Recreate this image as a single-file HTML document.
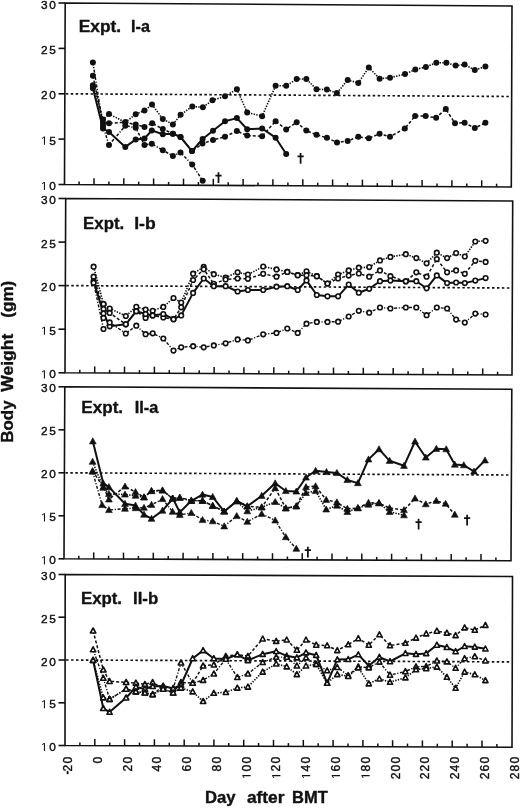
<!DOCTYPE html>
<html><head><meta charset="utf-8"><title>Body Weight after BMT</title>
<style>html,body{margin:0;padding:0;background:#fff;width:520px;height:808px;overflow:hidden;font-family:"Liberation Sans",sans-serif}svg{display:block;filter:blur(0.3px)}</style>
</head><body>
<svg width="520" height="808" viewBox="0 0 520 808">
<rect width="520" height="808" fill="#fff"/>
<path d="M65.2 3L512 6L511.3 187L64.5 184.5Z" fill="none" stroke="#111" stroke-width="1.6" stroke-linejoin="miter"/>
<path d="M58.5 3H65.2" stroke="#111" stroke-width="1.6"/>
<path d="M58.5 48.4H65" stroke="#111" stroke-width="1.6"/>
<path d="M58.5 93.8H64.8" stroke="#111" stroke-width="1.6"/>
<path d="M58.5 139.1H64.7" stroke="#111" stroke-width="1.6"/>
<path d="M58.5 184.5H64.5" stroke="#111" stroke-width="1.6"/>
<path d="M79.1 184.6V181.4" stroke="#111" stroke-width="1.5"/>
<path d="M94 184.7V178.2" stroke="#111" stroke-width="1.5"/>
<path d="M108.9 184.7V181.5" stroke="#111" stroke-width="1.5"/>
<path d="M123.8 184.8V178.3" stroke="#111" stroke-width="1.5"/>
<path d="M138.7 184.9V181.7" stroke="#111" stroke-width="1.5"/>
<path d="M153.6 185V178.5" stroke="#111" stroke-width="1.5"/>
<path d="M168.6 185.1V181.9" stroke="#111" stroke-width="1.5"/>
<path d="M183.5 185.2V178.7" stroke="#111" stroke-width="1.5"/>
<path d="M198.4 185.2V182" stroke="#111" stroke-width="1.5"/>
<path d="M213.3 185.3V178.8" stroke="#111" stroke-width="1.5"/>
<path d="M228.2 185.4V182.2" stroke="#111" stroke-width="1.5"/>
<path d="M243.1 185.5V179" stroke="#111" stroke-width="1.5"/>
<path d="M258 185.6V182.4" stroke="#111" stroke-width="1.5"/>
<path d="M272.9 185.7V179.2" stroke="#111" stroke-width="1.5"/>
<path d="M287.9 185.7V182.5" stroke="#111" stroke-width="1.5"/>
<path d="M302.8 185.8V179.3" stroke="#111" stroke-width="1.5"/>
<path d="M317.7 185.9V182.7" stroke="#111" stroke-width="1.5"/>
<path d="M332.6 186V179.5" stroke="#111" stroke-width="1.5"/>
<path d="M347.5 186.1V182.9" stroke="#111" stroke-width="1.5"/>
<path d="M362.4 186.2V179.7" stroke="#111" stroke-width="1.5"/>
<path d="M377.3 186.3V183.1" stroke="#111" stroke-width="1.5"/>
<path d="M392.2 186.3V179.8" stroke="#111" stroke-width="1.5"/>
<path d="M407.1 186.4V183.2" stroke="#111" stroke-width="1.5"/>
<path d="M422.1 186.5V180" stroke="#111" stroke-width="1.5"/>
<path d="M437 186.6V183.4" stroke="#111" stroke-width="1.5"/>
<path d="M451.9 186.7V180.2" stroke="#111" stroke-width="1.5"/>
<path d="M466.8 186.8V183.6" stroke="#111" stroke-width="1.5"/>
<path d="M481.7 186.8V180.3" stroke="#111" stroke-width="1.5"/>
<path d="M496.6 186.9V183.7" stroke="#111" stroke-width="1.5"/>
<path d="M65.8 93.8L510.6 96.5" stroke="#111" stroke-width="1.65" stroke-dasharray="2.5 2.45"/>
<path d="M65.7 198.5L512.7 201L512 375L65 372.8Z" fill="none" stroke="#111" stroke-width="1.6" stroke-linejoin="miter"/>
<path d="M58.5 198.5H65.7" stroke="#111" stroke-width="1.6"/>
<path d="M58.5 242.1H65.5" stroke="#111" stroke-width="1.6"/>
<path d="M58.5 285.6H65.3" stroke="#111" stroke-width="1.6"/>
<path d="M58.5 329.2H65.2" stroke="#111" stroke-width="1.6"/>
<path d="M58.5 372.8H65" stroke="#111" stroke-width="1.6"/>
<path d="M79.8 372.9V369.7" stroke="#111" stroke-width="1.5"/>
<path d="M94.7 372.9V366.4" stroke="#111" stroke-width="1.5"/>
<path d="M109.6 373V369.8" stroke="#111" stroke-width="1.5"/>
<path d="M124.5 373.1V366.6" stroke="#111" stroke-width="1.5"/>
<path d="M139.5 373.2V370" stroke="#111" stroke-width="1.5"/>
<path d="M154.4 373.2V366.7" stroke="#111" stroke-width="1.5"/>
<path d="M169.3 373.3V370.1" stroke="#111" stroke-width="1.5"/>
<path d="M184.2 373.4V366.9" stroke="#111" stroke-width="1.5"/>
<path d="M199.2 373.5V370.3" stroke="#111" stroke-width="1.5"/>
<path d="M214.1 373.5V367" stroke="#111" stroke-width="1.5"/>
<path d="M229 373.6V370.4" stroke="#111" stroke-width="1.5"/>
<path d="M243.9 373.7V367.2" stroke="#111" stroke-width="1.5"/>
<path d="M258.9 373.8V370.6" stroke="#111" stroke-width="1.5"/>
<path d="M273.8 373.8V367.3" stroke="#111" stroke-width="1.5"/>
<path d="M288.7 373.9V370.7" stroke="#111" stroke-width="1.5"/>
<path d="M303.6 374V367.5" stroke="#111" stroke-width="1.5"/>
<path d="M318.5 374V370.8" stroke="#111" stroke-width="1.5"/>
<path d="M333.5 374.1V367.6" stroke="#111" stroke-width="1.5"/>
<path d="M348.4 374.2V371" stroke="#111" stroke-width="1.5"/>
<path d="M363.3 374.3V367.8" stroke="#111" stroke-width="1.5"/>
<path d="M378.2 374.3V371.1" stroke="#111" stroke-width="1.5"/>
<path d="M393.2 374.4V367.9" stroke="#111" stroke-width="1.5"/>
<path d="M408.1 374.5V371.3" stroke="#111" stroke-width="1.5"/>
<path d="M423 374.6V368.1" stroke="#111" stroke-width="1.5"/>
<path d="M437.9 374.6V371.4" stroke="#111" stroke-width="1.5"/>
<path d="M452.9 374.7V368.2" stroke="#111" stroke-width="1.5"/>
<path d="M467.8 374.8V371.6" stroke="#111" stroke-width="1.5"/>
<path d="M482.7 374.9V368.4" stroke="#111" stroke-width="1.5"/>
<path d="M497.6 374.9V371.7" stroke="#111" stroke-width="1.5"/>
<path d="M66.3 285.6L511.4 288" stroke="#111" stroke-width="1.65" stroke-dasharray="2.5 2.45"/>
<path d="M64.8 386.8L511.8 389.3L511 560.7L64 558.8Z" fill="none" stroke="#111" stroke-width="1.6" stroke-linejoin="miter"/>
<path d="M58.5 386.8H64.8" stroke="#111" stroke-width="1.6"/>
<path d="M58.5 429.8H64.6" stroke="#111" stroke-width="1.6"/>
<path d="M58.5 472.8H64.4" stroke="#111" stroke-width="1.6"/>
<path d="M58.5 515.8H64.2" stroke="#111" stroke-width="1.6"/>
<path d="M58.5 558.8H64" stroke="#111" stroke-width="1.6"/>
<path d="M78.8 558.9V555.7" stroke="#111" stroke-width="1.5"/>
<path d="M93.7 558.9V552.4" stroke="#111" stroke-width="1.5"/>
<path d="M108.6 559V555.8" stroke="#111" stroke-width="1.5"/>
<path d="M123.5 559.1V552.6" stroke="#111" stroke-width="1.5"/>
<path d="M138.4 559.1V555.9" stroke="#111" stroke-width="1.5"/>
<path d="M153.3 559.2V552.7" stroke="#111" stroke-width="1.5"/>
<path d="M168.2 559.2V556" stroke="#111" stroke-width="1.5"/>
<path d="M183.1 559.3V552.8" stroke="#111" stroke-width="1.5"/>
<path d="M198 559.4V556.2" stroke="#111" stroke-width="1.5"/>
<path d="M212.9 559.4V552.9" stroke="#111" stroke-width="1.5"/>
<path d="M227.8 559.5V556.3" stroke="#111" stroke-width="1.5"/>
<path d="M242.7 559.6V553.1" stroke="#111" stroke-width="1.5"/>
<path d="M257.6 559.6V556.4" stroke="#111" stroke-width="1.5"/>
<path d="M272.5 559.7V553.2" stroke="#111" stroke-width="1.5"/>
<path d="M287.4 559.7V556.5" stroke="#111" stroke-width="1.5"/>
<path d="M302.2 559.8V553.3" stroke="#111" stroke-width="1.5"/>
<path d="M317.1 559.9V556.7" stroke="#111" stroke-width="1.5"/>
<path d="M332 559.9V553.4" stroke="#111" stroke-width="1.5"/>
<path d="M346.9 560V556.8" stroke="#111" stroke-width="1.5"/>
<path d="M361.8 560.1V553.6" stroke="#111" stroke-width="1.5"/>
<path d="M376.7 560.1V556.9" stroke="#111" stroke-width="1.5"/>
<path d="M391.6 560.2V553.7" stroke="#111" stroke-width="1.5"/>
<path d="M406.5 560.3V557.1" stroke="#111" stroke-width="1.5"/>
<path d="M421.4 560.3V553.8" stroke="#111" stroke-width="1.5"/>
<path d="M436.3 560.4V557.2" stroke="#111" stroke-width="1.5"/>
<path d="M451.2 560.4V553.9" stroke="#111" stroke-width="1.5"/>
<path d="M466.1 560.5V557.3" stroke="#111" stroke-width="1.5"/>
<path d="M481 560.6V554.1" stroke="#111" stroke-width="1.5"/>
<path d="M495.9 560.6V557.4" stroke="#111" stroke-width="1.5"/>
<path d="M65.4 472.8L510.4 475" stroke="#111" stroke-width="1.65" stroke-dasharray="2.5 2.45"/>
<path d="M65.2 574.5L512.5 576.5L512 747.2L65 745.5Z" fill="none" stroke="#111" stroke-width="1.6" stroke-linejoin="miter"/>
<path d="M58.5 574.5H65.2" stroke="#111" stroke-width="1.6"/>
<path d="M58.5 617.2H65.2" stroke="#111" stroke-width="1.6"/>
<path d="M58.5 660H65.1" stroke="#111" stroke-width="1.6"/>
<path d="M58.5 702.8H65" stroke="#111" stroke-width="1.6"/>
<path d="M58.5 745.5H65" stroke="#111" stroke-width="1.6"/>
<path d="M79.9 745.6V742.4" stroke="#111" stroke-width="1.5"/>
<path d="M94.8 745.6V739.1" stroke="#111" stroke-width="1.5"/>
<path d="M109.7 745.7V742.5" stroke="#111" stroke-width="1.5"/>
<path d="M124.6 745.7V739.2" stroke="#111" stroke-width="1.5"/>
<path d="M139.5 745.8V742.6" stroke="#111" stroke-width="1.5"/>
<path d="M154.4 745.8V739.3" stroke="#111" stroke-width="1.5"/>
<path d="M169.3 745.9V742.7" stroke="#111" stroke-width="1.5"/>
<path d="M184.2 746V739.5" stroke="#111" stroke-width="1.5"/>
<path d="M199 746V742.8" stroke="#111" stroke-width="1.5"/>
<path d="M213.9 746.1V739.6" stroke="#111" stroke-width="1.5"/>
<path d="M228.8 746.1V742.9" stroke="#111" stroke-width="1.5"/>
<path d="M243.7 746.2V739.7" stroke="#111" stroke-width="1.5"/>
<path d="M258.6 746.2V743" stroke="#111" stroke-width="1.5"/>
<path d="M273.5 746.3V739.8" stroke="#111" stroke-width="1.5"/>
<path d="M288.4 746.3V743.1" stroke="#111" stroke-width="1.5"/>
<path d="M303.3 746.4V739.9" stroke="#111" stroke-width="1.5"/>
<path d="M318.2 746.5V743.3" stroke="#111" stroke-width="1.5"/>
<path d="M333.1 746.5V740" stroke="#111" stroke-width="1.5"/>
<path d="M348 746.6V743.4" stroke="#111" stroke-width="1.5"/>
<path d="M362.9 746.6V740.1" stroke="#111" stroke-width="1.5"/>
<path d="M377.8 746.7V743.5" stroke="#111" stroke-width="1.5"/>
<path d="M392.6 746.7V740.2" stroke="#111" stroke-width="1.5"/>
<path d="M407.5 746.8V743.6" stroke="#111" stroke-width="1.5"/>
<path d="M422.4 746.9V740.4" stroke="#111" stroke-width="1.5"/>
<path d="M437.3 746.9V743.7" stroke="#111" stroke-width="1.5"/>
<path d="M452.2 747V740.5" stroke="#111" stroke-width="1.5"/>
<path d="M467.1 747V743.8" stroke="#111" stroke-width="1.5"/>
<path d="M482 747.1V740.6" stroke="#111" stroke-width="1.5"/>
<path d="M496.9 747.1V743.9" stroke="#111" stroke-width="1.5"/>
<path d="M66.1 660L511.2 661.9" stroke="#111" stroke-width="1.65" stroke-dasharray="2.5 2.45"/>
<path d="M92.9 85.2 L103 119.5 L109 114 L125.3 122.3 L135.7 114.2 L144.5 110.6 L152 104.6 L162.8 119 L172.9 124.4 L180.6 114.8 L192.3 106.5 L202.9 107.3 L212.5 100.2 L225 96.3 L236.9 89.2 L247.2 112.5 L262.1 116.2 L275.6 85.8 L286.2 85.8 L296.7 79 L306.3 79 L316.5 89.2 L326.9 89.6 L336.9 93.1 L347.7 80 L358.3 82.9 L368.8 67.5 L379.6 78.7 L390 77.7 L405 74.1 L415.3 69.6 L425.9 66.9 L436.3 62.7 L446.4 62.7 L455.6 65.6 L464.6 64.6 L474.8 70 L485.4 66.5" fill="none" stroke="#111" stroke-width="1.6" stroke-dasharray="1.4 1.3" stroke-linejoin="round"/>
<path d="M92.9 88.2 L103 128.5 L109 132 L125.3 146.9 L135.7 139.6 L144.5 138.5 L151.8 130.4 L162.8 134.2 L172.9 133.7 L180.5 137 L192 151.1 L202.6 139 L213 130.7 L225 121.3 L236.9 118.1 L247.2 129.3 L262.1 128.5 L275.6 137.7 L286.2 154" fill="none" stroke="#111" stroke-width="2.0" stroke-linejoin="round"/>
<path d="M92.9 75.8 L103 123 L109 123.2 L125.3 122.3 L135.7 124.6 L144.5 126.9 L152.2 123.3 L162.8 129 L172.9 133.7 L180.5 137 L192 151.1 L202.5 143.5 L213 140 L225 136.7 L236.9 131 L247.2 135.6 L262.1 136.2 L275.6 121.3 L286.2 129.4 L296.7 122.3 L306.3 130.6 L316.5 134.8 L326.9 137.7 L337 142.5 L347.7 141 L358.3 136.7 L368.8 138.3 L379.6 133.8 L390 136.7 L404.8 128.5 L415.1 116.1 L425.6 116.1 L436.1 117.8 L445.8 109 L455 123.3 L464.6 122.7 L474.8 128.1 L485.4 122.7" fill="none" stroke="#111" stroke-width="1.5" stroke-dasharray="3 2" stroke-linejoin="round"/>
<path d="M92.9 62.4 L103 126 L109 145 L125.3 125.8 L135.7 127.7 L144.5 145 L151.8 143.8 L162.8 150.2 L172.9 155.9 L180.5 152.5 L192.2 164.5 L202.7 180.8" fill="none" stroke="#111" stroke-width="1.5" stroke-dasharray="3 1.6 1.2 1.6" stroke-linejoin="round"/>
<circle cx="92.9" cy="85.2" r="3.0" fill="#111"/>
<circle cx="103" cy="119.5" r="3.0" fill="#111"/>
<circle cx="109" cy="114" r="3.0" fill="#111"/>
<circle cx="125.3" cy="122.3" r="3.0" fill="#111"/>
<circle cx="135.7" cy="114.2" r="3.0" fill="#111"/>
<circle cx="144.5" cy="110.6" r="3.0" fill="#111"/>
<circle cx="152" cy="104.6" r="3.0" fill="#111"/>
<circle cx="162.8" cy="119" r="3.0" fill="#111"/>
<circle cx="172.9" cy="124.4" r="3.0" fill="#111"/>
<circle cx="180.6" cy="114.8" r="3.0" fill="#111"/>
<circle cx="192.3" cy="106.5" r="3.0" fill="#111"/>
<circle cx="202.9" cy="107.3" r="3.0" fill="#111"/>
<circle cx="212.5" cy="100.2" r="3.0" fill="#111"/>
<circle cx="225" cy="96.3" r="3.0" fill="#111"/>
<circle cx="236.9" cy="89.2" r="3.0" fill="#111"/>
<circle cx="247.2" cy="112.5" r="3.0" fill="#111"/>
<circle cx="262.1" cy="116.2" r="3.0" fill="#111"/>
<circle cx="275.6" cy="85.8" r="3.0" fill="#111"/>
<circle cx="286.2" cy="85.8" r="3.0" fill="#111"/>
<circle cx="296.7" cy="79" r="3.0" fill="#111"/>
<circle cx="306.3" cy="79" r="3.0" fill="#111"/>
<circle cx="316.5" cy="89.2" r="3.0" fill="#111"/>
<circle cx="326.9" cy="89.6" r="3.0" fill="#111"/>
<circle cx="336.9" cy="93.1" r="3.0" fill="#111"/>
<circle cx="347.7" cy="80" r="3.0" fill="#111"/>
<circle cx="358.3" cy="82.9" r="3.0" fill="#111"/>
<circle cx="368.8" cy="67.5" r="3.0" fill="#111"/>
<circle cx="379.6" cy="78.7" r="3.0" fill="#111"/>
<circle cx="390" cy="77.7" r="3.0" fill="#111"/>
<circle cx="405" cy="74.1" r="3.0" fill="#111"/>
<circle cx="415.3" cy="69.6" r="3.0" fill="#111"/>
<circle cx="425.9" cy="66.9" r="3.0" fill="#111"/>
<circle cx="436.3" cy="62.7" r="3.0" fill="#111"/>
<circle cx="446.4" cy="62.7" r="3.0" fill="#111"/>
<circle cx="455.6" cy="65.6" r="3.0" fill="#111"/>
<circle cx="464.6" cy="64.6" r="3.0" fill="#111"/>
<circle cx="474.8" cy="70" r="3.0" fill="#111"/>
<circle cx="485.4" cy="66.5" r="3.0" fill="#111"/>
<circle cx="92.9" cy="88.2" r="3.0" fill="#111"/>
<circle cx="103" cy="128.5" r="3.0" fill="#111"/>
<circle cx="109" cy="132" r="3.0" fill="#111"/>
<circle cx="125.3" cy="146.9" r="3.0" fill="#111"/>
<circle cx="135.7" cy="139.6" r="3.0" fill="#111"/>
<circle cx="144.5" cy="138.5" r="3.0" fill="#111"/>
<circle cx="151.8" cy="130.4" r="3.0" fill="#111"/>
<circle cx="162.8" cy="134.2" r="3.0" fill="#111"/>
<circle cx="172.9" cy="133.7" r="3.0" fill="#111"/>
<circle cx="180.5" cy="137" r="3.0" fill="#111"/>
<circle cx="192" cy="151.1" r="3.0" fill="#111"/>
<circle cx="202.6" cy="139" r="3.0" fill="#111"/>
<circle cx="213" cy="130.7" r="3.0" fill="#111"/>
<circle cx="225" cy="121.3" r="3.0" fill="#111"/>
<circle cx="236.9" cy="118.1" r="3.0" fill="#111"/>
<circle cx="247.2" cy="129.3" r="3.0" fill="#111"/>
<circle cx="262.1" cy="128.5" r="3.0" fill="#111"/>
<circle cx="275.6" cy="137.7" r="3.0" fill="#111"/>
<circle cx="286.2" cy="154" r="3.0" fill="#111"/>
<circle cx="92.9" cy="75.8" r="3.0" fill="#111"/>
<circle cx="103" cy="123" r="3.0" fill="#111"/>
<circle cx="109" cy="123.2" r="3.0" fill="#111"/>
<circle cx="125.3" cy="122.3" r="3.0" fill="#111"/>
<circle cx="135.7" cy="124.6" r="3.0" fill="#111"/>
<circle cx="144.5" cy="126.9" r="3.0" fill="#111"/>
<circle cx="152.2" cy="123.3" r="3.0" fill="#111"/>
<circle cx="162.8" cy="129" r="3.0" fill="#111"/>
<circle cx="172.9" cy="133.7" r="3.0" fill="#111"/>
<circle cx="180.5" cy="137" r="3.0" fill="#111"/>
<circle cx="192" cy="151.1" r="3.0" fill="#111"/>
<circle cx="202.5" cy="143.5" r="3.0" fill="#111"/>
<circle cx="213" cy="140" r="3.0" fill="#111"/>
<circle cx="225" cy="136.7" r="3.0" fill="#111"/>
<circle cx="236.9" cy="131" r="3.0" fill="#111"/>
<circle cx="247.2" cy="135.6" r="3.0" fill="#111"/>
<circle cx="262.1" cy="136.2" r="3.0" fill="#111"/>
<circle cx="275.6" cy="121.3" r="3.0" fill="#111"/>
<circle cx="286.2" cy="129.4" r="3.0" fill="#111"/>
<circle cx="296.7" cy="122.3" r="3.0" fill="#111"/>
<circle cx="306.3" cy="130.6" r="3.0" fill="#111"/>
<circle cx="316.5" cy="134.8" r="3.0" fill="#111"/>
<circle cx="326.9" cy="137.7" r="3.0" fill="#111"/>
<circle cx="337" cy="142.5" r="3.0" fill="#111"/>
<circle cx="347.7" cy="141" r="3.0" fill="#111"/>
<circle cx="358.3" cy="136.7" r="3.0" fill="#111"/>
<circle cx="368.8" cy="138.3" r="3.0" fill="#111"/>
<circle cx="379.6" cy="133.8" r="3.0" fill="#111"/>
<circle cx="390" cy="136.7" r="3.0" fill="#111"/>
<circle cx="404.8" cy="128.5" r="3.0" fill="#111"/>
<circle cx="415.1" cy="116.1" r="3.0" fill="#111"/>
<circle cx="425.6" cy="116.1" r="3.0" fill="#111"/>
<circle cx="436.1" cy="117.8" r="3.0" fill="#111"/>
<circle cx="445.8" cy="109" r="3.0" fill="#111"/>
<circle cx="455" cy="123.3" r="3.0" fill="#111"/>
<circle cx="464.6" cy="122.7" r="3.0" fill="#111"/>
<circle cx="474.8" cy="128.1" r="3.0" fill="#111"/>
<circle cx="485.4" cy="122.7" r="3.0" fill="#111"/>
<circle cx="92.9" cy="62.4" r="3.0" fill="#111"/>
<circle cx="103" cy="126" r="3.0" fill="#111"/>
<circle cx="109" cy="145" r="3.0" fill="#111"/>
<circle cx="125.3" cy="125.8" r="3.0" fill="#111"/>
<circle cx="135.7" cy="127.7" r="3.0" fill="#111"/>
<circle cx="144.5" cy="145" r="3.0" fill="#111"/>
<circle cx="151.8" cy="143.8" r="3.0" fill="#111"/>
<circle cx="162.8" cy="150.2" r="3.0" fill="#111"/>
<circle cx="172.9" cy="155.9" r="3.0" fill="#111"/>
<circle cx="180.5" cy="152.5" r="3.0" fill="#111"/>
<circle cx="192.2" cy="164.5" r="3.0" fill="#111"/>
<circle cx="202.7" cy="180.8" r="3.0" fill="#111"/>
<path d="M218.5 172.3V182.9 M215.4 175.6H221.6" stroke="#111" stroke-width="1.75"/>
<path d="M300.6 153.1V163.7 M297.5 156.4H303.7" stroke="#111" stroke-width="1.75"/>
<path d="M93.6 266.7 L103.5 304 L109.7 308.5 L125.8 316 L136.3 306.8 L145.6 309.6 L152.7 310.8 L163.3 306.9 L173.5 298 L181.2 302.5 L193.1 273.7 L203.7 266.9 L213.8 274.2 L225.6 277.5 L237.6 272.3 L247.9 274.6 L263.2 266.5 L276.5 269.4 L287.3 271.9 L297.7 275.2 L306.5 271.3 L316.8 276.2 L327.5 283.5 L338.1 274.6 L348.7 270.4 L358.8 267.7 L369.2 267.1 L380 260.4 L390.4 256.9 L405.8 254.2 L416.3 258.1 L426.6 263.3 L436.8 252.7 L447.1 258.1 L456.1 253.1 L464.8 256.5 L475.3 241.5 L485.6 240.8" fill="none" stroke="#111" stroke-width="1.6" stroke-dasharray="1.4 1.3" stroke-linejoin="round"/>
<path d="M93.6 276.7 L103.5 309 L109.7 312.9 L125.8 324.3 L136.3 311.2 L145.6 317.9 L152.7 315.4 L163.3 317.5 L173.5 319.2 L181.2 307.3 L193.1 280 L203.7 269.2 L213.8 283.8 L225.6 279.4 L237.6 278.5 L247.9 278.8 L263.2 273.8 L276.5 276.7 L287.3 271.9 L297.7 275.2 L306.5 275.2 L316.8 276.2 L327.5 283.5 L338.1 278.5 L348.7 275.6 L358.8 273.5 L369.2 276.7 L380 270.4 L390.4 276.2 L405.8 281.5 L416.3 272.3 L426.6 276.7 L436.8 259.1 L447.1 272.3 L456.1 270.4 L464.8 273.8 L475.3 260.8 L485.6 261.9" fill="none" stroke="#111" stroke-width="1.5" stroke-dasharray="3 2" stroke-linejoin="round"/>
<path d="M93.6 281.2 L103.5 313.5 L109.7 326.3 L125.8 324.3 L136.3 311.2 L145.6 314 L152.7 315.4 L163.3 314 L173.5 319.2 L181.2 315.4 L193.1 292.9 L203.7 278.5 L213.8 286.2 L225.6 286.2 L237.6 291.5 L247.9 290 L263.2 290 L276.5 286.7 L287.3 286.2 L297.7 290 L306.5 280.4 L316.8 295 L327.5 296.3 L338.1 296.3 L348.7 284.6 L358.8 292.7 L369.2 288.8 L380 281.2 L390.4 280.6 L405.8 281.2 L416.3 281.2 L426.6 288.3 L436.8 275.4 L447.1 283.1 L456.1 282.5 L464.8 283.1 L475.3 280.6 L485.6 278.1" fill="none" stroke="#111" stroke-width="2.0" stroke-linejoin="round"/>
<path d="M93.6 282.8 L103.5 329 L109.7 322.4 L125.8 333.5 L136.3 325.7 L145.6 334.2 L152.7 333.3 L163.3 338.5 L173.5 350.6 L181.2 347.3 L193.1 346.2 L203.7 347.3 L213.8 345.4 L225.6 343.3 L237.6 339.4 L247.9 340.4 L263.2 334.3 L276.5 332.9 L287.3 328.5 L297.7 332.9 L306.5 323.7 L316.8 321.9 L327.5 321.9 L338.1 321.7 L348.7 316.5 L358.8 310.8 L369.2 312.7 L380 307.5 L390.4 308.5 L405.8 307.5 L416.3 307.5 L426.6 315.2 L436.8 307.5 L447.1 308.5 L456.1 319.6 L464.8 322.6 L475.3 313.6 L485.6 314.5" fill="none" stroke="#111" stroke-width="1.4" stroke-dasharray="3 1.6 1.2 1.6" stroke-linejoin="round"/>
<circle cx="93.6" cy="266.7" r="2.3" fill="#fff" stroke="#111" stroke-width="1.6"/>
<circle cx="103.5" cy="304" r="2.3" fill="#fff" stroke="#111" stroke-width="1.6"/>
<circle cx="109.7" cy="308.5" r="2.3" fill="#fff" stroke="#111" stroke-width="1.6"/>
<circle cx="125.8" cy="316" r="2.3" fill="#fff" stroke="#111" stroke-width="1.6"/>
<circle cx="136.3" cy="306.8" r="2.3" fill="#fff" stroke="#111" stroke-width="1.6"/>
<circle cx="145.6" cy="309.6" r="2.3" fill="#fff" stroke="#111" stroke-width="1.6"/>
<circle cx="152.7" cy="310.8" r="2.3" fill="#fff" stroke="#111" stroke-width="1.6"/>
<circle cx="163.3" cy="306.9" r="2.3" fill="#fff" stroke="#111" stroke-width="1.6"/>
<circle cx="173.5" cy="298" r="2.3" fill="#fff" stroke="#111" stroke-width="1.6"/>
<circle cx="181.2" cy="302.5" r="2.3" fill="#fff" stroke="#111" stroke-width="1.6"/>
<circle cx="193.1" cy="273.7" r="2.3" fill="#fff" stroke="#111" stroke-width="1.6"/>
<circle cx="203.7" cy="266.9" r="2.3" fill="#fff" stroke="#111" stroke-width="1.6"/>
<circle cx="213.8" cy="274.2" r="2.3" fill="#fff" stroke="#111" stroke-width="1.6"/>
<circle cx="225.6" cy="277.5" r="2.3" fill="#fff" stroke="#111" stroke-width="1.6"/>
<circle cx="237.6" cy="272.3" r="2.3" fill="#fff" stroke="#111" stroke-width="1.6"/>
<circle cx="247.9" cy="274.6" r="2.3" fill="#fff" stroke="#111" stroke-width="1.6"/>
<circle cx="263.2" cy="266.5" r="2.3" fill="#fff" stroke="#111" stroke-width="1.6"/>
<circle cx="276.5" cy="269.4" r="2.3" fill="#fff" stroke="#111" stroke-width="1.6"/>
<circle cx="287.3" cy="271.9" r="2.3" fill="#fff" stroke="#111" stroke-width="1.6"/>
<circle cx="297.7" cy="275.2" r="2.3" fill="#fff" stroke="#111" stroke-width="1.6"/>
<circle cx="306.5" cy="271.3" r="2.3" fill="#fff" stroke="#111" stroke-width="1.6"/>
<circle cx="316.8" cy="276.2" r="2.3" fill="#fff" stroke="#111" stroke-width="1.6"/>
<circle cx="327.5" cy="283.5" r="2.3" fill="#fff" stroke="#111" stroke-width="1.6"/>
<circle cx="338.1" cy="274.6" r="2.3" fill="#fff" stroke="#111" stroke-width="1.6"/>
<circle cx="348.7" cy="270.4" r="2.3" fill="#fff" stroke="#111" stroke-width="1.6"/>
<circle cx="358.8" cy="267.7" r="2.3" fill="#fff" stroke="#111" stroke-width="1.6"/>
<circle cx="369.2" cy="267.1" r="2.3" fill="#fff" stroke="#111" stroke-width="1.6"/>
<circle cx="380" cy="260.4" r="2.3" fill="#fff" stroke="#111" stroke-width="1.6"/>
<circle cx="390.4" cy="256.9" r="2.3" fill="#fff" stroke="#111" stroke-width="1.6"/>
<circle cx="405.8" cy="254.2" r="2.3" fill="#fff" stroke="#111" stroke-width="1.6"/>
<circle cx="416.3" cy="258.1" r="2.3" fill="#fff" stroke="#111" stroke-width="1.6"/>
<circle cx="426.6" cy="263.3" r="2.3" fill="#fff" stroke="#111" stroke-width="1.6"/>
<circle cx="436.8" cy="252.7" r="2.3" fill="#fff" stroke="#111" stroke-width="1.6"/>
<circle cx="447.1" cy="258.1" r="2.3" fill="#fff" stroke="#111" stroke-width="1.6"/>
<circle cx="456.1" cy="253.1" r="2.3" fill="#fff" stroke="#111" stroke-width="1.6"/>
<circle cx="464.8" cy="256.5" r="2.3" fill="#fff" stroke="#111" stroke-width="1.6"/>
<circle cx="475.3" cy="241.5" r="2.3" fill="#fff" stroke="#111" stroke-width="1.6"/>
<circle cx="485.6" cy="240.8" r="2.3" fill="#fff" stroke="#111" stroke-width="1.6"/>
<circle cx="93.6" cy="276.7" r="2.3" fill="#fff" stroke="#111" stroke-width="1.6"/>
<circle cx="103.5" cy="309" r="2.3" fill="#fff" stroke="#111" stroke-width="1.6"/>
<circle cx="109.7" cy="312.9" r="2.3" fill="#fff" stroke="#111" stroke-width="1.6"/>
<circle cx="125.8" cy="324.3" r="2.3" fill="#fff" stroke="#111" stroke-width="1.6"/>
<circle cx="136.3" cy="311.2" r="2.3" fill="#fff" stroke="#111" stroke-width="1.6"/>
<circle cx="145.6" cy="317.9" r="2.3" fill="#fff" stroke="#111" stroke-width="1.6"/>
<circle cx="152.7" cy="315.4" r="2.3" fill="#fff" stroke="#111" stroke-width="1.6"/>
<circle cx="163.3" cy="317.5" r="2.3" fill="#fff" stroke="#111" stroke-width="1.6"/>
<circle cx="173.5" cy="319.2" r="2.3" fill="#fff" stroke="#111" stroke-width="1.6"/>
<circle cx="181.2" cy="307.3" r="2.3" fill="#fff" stroke="#111" stroke-width="1.6"/>
<circle cx="193.1" cy="280" r="2.3" fill="#fff" stroke="#111" stroke-width="1.6"/>
<circle cx="203.7" cy="269.2" r="2.3" fill="#fff" stroke="#111" stroke-width="1.6"/>
<circle cx="213.8" cy="283.8" r="2.3" fill="#fff" stroke="#111" stroke-width="1.6"/>
<circle cx="225.6" cy="279.4" r="2.3" fill="#fff" stroke="#111" stroke-width="1.6"/>
<circle cx="237.6" cy="278.5" r="2.3" fill="#fff" stroke="#111" stroke-width="1.6"/>
<circle cx="247.9" cy="278.8" r="2.3" fill="#fff" stroke="#111" stroke-width="1.6"/>
<circle cx="263.2" cy="273.8" r="2.3" fill="#fff" stroke="#111" stroke-width="1.6"/>
<circle cx="276.5" cy="276.7" r="2.3" fill="#fff" stroke="#111" stroke-width="1.6"/>
<circle cx="287.3" cy="271.9" r="2.3" fill="#fff" stroke="#111" stroke-width="1.6"/>
<circle cx="297.7" cy="275.2" r="2.3" fill="#fff" stroke="#111" stroke-width="1.6"/>
<circle cx="306.5" cy="275.2" r="2.3" fill="#fff" stroke="#111" stroke-width="1.6"/>
<circle cx="316.8" cy="276.2" r="2.3" fill="#fff" stroke="#111" stroke-width="1.6"/>
<circle cx="327.5" cy="283.5" r="2.3" fill="#fff" stroke="#111" stroke-width="1.6"/>
<circle cx="338.1" cy="278.5" r="2.3" fill="#fff" stroke="#111" stroke-width="1.6"/>
<circle cx="348.7" cy="275.6" r="2.3" fill="#fff" stroke="#111" stroke-width="1.6"/>
<circle cx="358.8" cy="273.5" r="2.3" fill="#fff" stroke="#111" stroke-width="1.6"/>
<circle cx="369.2" cy="276.7" r="2.3" fill="#fff" stroke="#111" stroke-width="1.6"/>
<circle cx="380" cy="270.4" r="2.3" fill="#fff" stroke="#111" stroke-width="1.6"/>
<circle cx="390.4" cy="276.2" r="2.3" fill="#fff" stroke="#111" stroke-width="1.6"/>
<circle cx="405.8" cy="281.5" r="2.3" fill="#fff" stroke="#111" stroke-width="1.6"/>
<circle cx="416.3" cy="272.3" r="2.3" fill="#fff" stroke="#111" stroke-width="1.6"/>
<circle cx="426.6" cy="276.7" r="2.3" fill="#fff" stroke="#111" stroke-width="1.6"/>
<circle cx="436.8" cy="259.1" r="2.3" fill="#fff" stroke="#111" stroke-width="1.6"/>
<circle cx="447.1" cy="272.3" r="2.3" fill="#fff" stroke="#111" stroke-width="1.6"/>
<circle cx="456.1" cy="270.4" r="2.3" fill="#fff" stroke="#111" stroke-width="1.6"/>
<circle cx="464.8" cy="273.8" r="2.3" fill="#fff" stroke="#111" stroke-width="1.6"/>
<circle cx="475.3" cy="260.8" r="2.3" fill="#fff" stroke="#111" stroke-width="1.6"/>
<circle cx="485.6" cy="261.9" r="2.3" fill="#fff" stroke="#111" stroke-width="1.6"/>
<circle cx="93.6" cy="281.2" r="2.3" fill="#fff" stroke="#111" stroke-width="1.6"/>
<circle cx="103.5" cy="313.5" r="2.3" fill="#fff" stroke="#111" stroke-width="1.6"/>
<circle cx="109.7" cy="326.3" r="2.3" fill="#fff" stroke="#111" stroke-width="1.6"/>
<circle cx="125.8" cy="324.3" r="2.3" fill="#fff" stroke="#111" stroke-width="1.6"/>
<circle cx="136.3" cy="311.2" r="2.3" fill="#fff" stroke="#111" stroke-width="1.6"/>
<circle cx="145.6" cy="314" r="2.3" fill="#fff" stroke="#111" stroke-width="1.6"/>
<circle cx="152.7" cy="315.4" r="2.3" fill="#fff" stroke="#111" stroke-width="1.6"/>
<circle cx="163.3" cy="314" r="2.3" fill="#fff" stroke="#111" stroke-width="1.6"/>
<circle cx="173.5" cy="319.2" r="2.3" fill="#fff" stroke="#111" stroke-width="1.6"/>
<circle cx="181.2" cy="315.4" r="2.3" fill="#fff" stroke="#111" stroke-width="1.6"/>
<circle cx="193.1" cy="292.9" r="2.3" fill="#fff" stroke="#111" stroke-width="1.6"/>
<circle cx="203.7" cy="278.5" r="2.3" fill="#fff" stroke="#111" stroke-width="1.6"/>
<circle cx="213.8" cy="286.2" r="2.3" fill="#fff" stroke="#111" stroke-width="1.6"/>
<circle cx="225.6" cy="286.2" r="2.3" fill="#fff" stroke="#111" stroke-width="1.6"/>
<circle cx="237.6" cy="291.5" r="2.3" fill="#fff" stroke="#111" stroke-width="1.6"/>
<circle cx="247.9" cy="290" r="2.3" fill="#fff" stroke="#111" stroke-width="1.6"/>
<circle cx="263.2" cy="290" r="2.3" fill="#fff" stroke="#111" stroke-width="1.6"/>
<circle cx="276.5" cy="286.7" r="2.3" fill="#fff" stroke="#111" stroke-width="1.6"/>
<circle cx="287.3" cy="286.2" r="2.3" fill="#fff" stroke="#111" stroke-width="1.6"/>
<circle cx="297.7" cy="290" r="2.3" fill="#fff" stroke="#111" stroke-width="1.6"/>
<circle cx="306.5" cy="280.4" r="2.3" fill="#fff" stroke="#111" stroke-width="1.6"/>
<circle cx="316.8" cy="295" r="2.3" fill="#fff" stroke="#111" stroke-width="1.6"/>
<circle cx="327.5" cy="296.3" r="2.3" fill="#fff" stroke="#111" stroke-width="1.6"/>
<circle cx="338.1" cy="296.3" r="2.3" fill="#fff" stroke="#111" stroke-width="1.6"/>
<circle cx="348.7" cy="284.6" r="2.3" fill="#fff" stroke="#111" stroke-width="1.6"/>
<circle cx="358.8" cy="292.7" r="2.3" fill="#fff" stroke="#111" stroke-width="1.6"/>
<circle cx="369.2" cy="288.8" r="2.3" fill="#fff" stroke="#111" stroke-width="1.6"/>
<circle cx="380" cy="281.2" r="2.3" fill="#fff" stroke="#111" stroke-width="1.6"/>
<circle cx="390.4" cy="280.6" r="2.3" fill="#fff" stroke="#111" stroke-width="1.6"/>
<circle cx="405.8" cy="281.2" r="2.3" fill="#fff" stroke="#111" stroke-width="1.6"/>
<circle cx="416.3" cy="281.2" r="2.3" fill="#fff" stroke="#111" stroke-width="1.6"/>
<circle cx="426.6" cy="288.3" r="2.3" fill="#fff" stroke="#111" stroke-width="1.6"/>
<circle cx="436.8" cy="275.4" r="2.3" fill="#fff" stroke="#111" stroke-width="1.6"/>
<circle cx="447.1" cy="283.1" r="2.3" fill="#fff" stroke="#111" stroke-width="1.6"/>
<circle cx="456.1" cy="282.5" r="2.3" fill="#fff" stroke="#111" stroke-width="1.6"/>
<circle cx="464.8" cy="283.1" r="2.3" fill="#fff" stroke="#111" stroke-width="1.6"/>
<circle cx="475.3" cy="280.6" r="2.3" fill="#fff" stroke="#111" stroke-width="1.6"/>
<circle cx="485.6" cy="278.1" r="2.3" fill="#fff" stroke="#111" stroke-width="1.6"/>
<circle cx="93.6" cy="282.8" r="2.3" fill="#fff" stroke="#111" stroke-width="1.6"/>
<circle cx="103.5" cy="329" r="2.3" fill="#fff" stroke="#111" stroke-width="1.6"/>
<circle cx="109.7" cy="322.4" r="2.3" fill="#fff" stroke="#111" stroke-width="1.6"/>
<circle cx="125.8" cy="333.5" r="2.3" fill="#fff" stroke="#111" stroke-width="1.6"/>
<circle cx="136.3" cy="325.7" r="2.3" fill="#fff" stroke="#111" stroke-width="1.6"/>
<circle cx="145.6" cy="334.2" r="2.3" fill="#fff" stroke="#111" stroke-width="1.6"/>
<circle cx="152.7" cy="333.3" r="2.3" fill="#fff" stroke="#111" stroke-width="1.6"/>
<circle cx="163.3" cy="338.5" r="2.3" fill="#fff" stroke="#111" stroke-width="1.6"/>
<circle cx="173.5" cy="350.6" r="2.3" fill="#fff" stroke="#111" stroke-width="1.6"/>
<circle cx="181.2" cy="347.3" r="2.3" fill="#fff" stroke="#111" stroke-width="1.6"/>
<circle cx="193.1" cy="346.2" r="2.3" fill="#fff" stroke="#111" stroke-width="1.6"/>
<circle cx="203.7" cy="347.3" r="2.3" fill="#fff" stroke="#111" stroke-width="1.6"/>
<circle cx="213.8" cy="345.4" r="2.3" fill="#fff" stroke="#111" stroke-width="1.6"/>
<circle cx="225.6" cy="343.3" r="2.3" fill="#fff" stroke="#111" stroke-width="1.6"/>
<circle cx="237.6" cy="339.4" r="2.3" fill="#fff" stroke="#111" stroke-width="1.6"/>
<circle cx="247.9" cy="340.4" r="2.3" fill="#fff" stroke="#111" stroke-width="1.6"/>
<circle cx="263.2" cy="334.3" r="2.3" fill="#fff" stroke="#111" stroke-width="1.6"/>
<circle cx="276.5" cy="332.9" r="2.3" fill="#fff" stroke="#111" stroke-width="1.6"/>
<circle cx="287.3" cy="328.5" r="2.3" fill="#fff" stroke="#111" stroke-width="1.6"/>
<circle cx="297.7" cy="332.9" r="2.3" fill="#fff" stroke="#111" stroke-width="1.6"/>
<circle cx="306.5" cy="323.7" r="2.3" fill="#fff" stroke="#111" stroke-width="1.6"/>
<circle cx="316.8" cy="321.9" r="2.3" fill="#fff" stroke="#111" stroke-width="1.6"/>
<circle cx="327.5" cy="321.9" r="2.3" fill="#fff" stroke="#111" stroke-width="1.6"/>
<circle cx="338.1" cy="321.7" r="2.3" fill="#fff" stroke="#111" stroke-width="1.6"/>
<circle cx="348.7" cy="316.5" r="2.3" fill="#fff" stroke="#111" stroke-width="1.6"/>
<circle cx="358.8" cy="310.8" r="2.3" fill="#fff" stroke="#111" stroke-width="1.6"/>
<circle cx="369.2" cy="312.7" r="2.3" fill="#fff" stroke="#111" stroke-width="1.6"/>
<circle cx="380" cy="307.5" r="2.3" fill="#fff" stroke="#111" stroke-width="1.6"/>
<circle cx="390.4" cy="308.5" r="2.3" fill="#fff" stroke="#111" stroke-width="1.6"/>
<circle cx="405.8" cy="307.5" r="2.3" fill="#fff" stroke="#111" stroke-width="1.6"/>
<circle cx="416.3" cy="307.5" r="2.3" fill="#fff" stroke="#111" stroke-width="1.6"/>
<circle cx="426.6" cy="315.2" r="2.3" fill="#fff" stroke="#111" stroke-width="1.6"/>
<circle cx="436.8" cy="307.5" r="2.3" fill="#fff" stroke="#111" stroke-width="1.6"/>
<circle cx="447.1" cy="308.5" r="2.3" fill="#fff" stroke="#111" stroke-width="1.6"/>
<circle cx="456.1" cy="319.6" r="2.3" fill="#fff" stroke="#111" stroke-width="1.6"/>
<circle cx="464.8" cy="322.6" r="2.3" fill="#fff" stroke="#111" stroke-width="1.6"/>
<circle cx="475.3" cy="313.6" r="2.3" fill="#fff" stroke="#111" stroke-width="1.6"/>
<circle cx="485.6" cy="314.5" r="2.3" fill="#fff" stroke="#111" stroke-width="1.6"/>
<circle cx="103.5" cy="304" r="2.3" fill="#fff" stroke="#111" stroke-width="1.6"/>
<circle cx="103.5" cy="317.9" r="2.3" fill="#fff" stroke="#111" stroke-width="1.6"/>
<path d="M92.8 441.3 L103.3 483.4 L108.9 487.1 L125 503.8 L135.5 505.6 L144 514.6 L151.5 518.7 L162.5 510.6 L172.9 498.5 L179.8 512.3 L191.3 500.8 L202.5 494.6 L212.7 496.9 L224.2 511.5 L236.8 501 L247.3 506.3 L261.7 495.8 L275.2 483.3 L285.8 491 L296.3 491.5 L306 477.5 L315.6 470.8 L326.5 472 L336.9 472.9 L347.3 480 L357.9 483.1 L368.5 459.4 L379 449.2 L389.6 460.8 L404 465.8 L415 441.5 L425.8 457.5 L436.3 448.8 L446.2 449.2 L454.8 464.6 L463.8 465.2 L474 471.5 L485 460.4" fill="none" stroke="#111" stroke-width="2.0" stroke-linejoin="round"/>
<path d="M92.6 471.6 L102.1 505 L108.9 510 L125 508.7 L135.5 508.1 L144 507.7 L151.5 504.8 L162.5 499 L172.6 511.7 L179.8 514.8 L191.3 512.9 L202.5 520 L212.7 521.2 L224.2 526.3 L236.7 516 L247.3 521.7 L261.7 514 L275.2 520.4 L285.8 537.1 L296.3 548.7" fill="none" stroke="#111" stroke-width="1.4" stroke-dasharray="3 1.6 1.2 1.6" stroke-linejoin="round"/>
<path d="M92.6 461.7 L103.3 487.7 L108.9 493.9 L125 494.5 L135.5 495.7 L144 497.3 L151.5 491 L162.5 490.4 L172.6 498.5 L179.8 497.9 L191.3 500.8 L202.5 500.8 L212.7 505.8 L224.2 511.5 L236.7 501.2 L247.3 511.2 L261.7 507.3 L275.2 501.9 L285.8 508.3 L296.3 506.3 L306 492.9 L315.6 491 L326.2 509.4 L336.9 505.6 L347.3 511.9 L357.9 508.1 L368.5 504.6 L379 503.1 L389.6 511.9 L404 515.2" fill="none" stroke="#111" stroke-width="1.6" stroke-dasharray="1.4 1.3" stroke-linejoin="round"/>
<path d="M92.6 471 L103.3 487 L108.9 499.4 L125 486.5 L135.5 492 L144 497.3 L151.5 491 L162.5 490.4 L172.6 498.5 L179.8 497.5 L191.3 500.4 L202.5 500.8 L212.7 505.8 L224.2 511.5 L236.7 501.2 L247.3 506.3 L261.7 507.3 L275.2 488.1 L285.8 508.3 L296.3 506.3 L306 487.1 L315.6 486.2 L326.2 499.8 L336.9 502.3 L347.3 508.8 L357.9 508.1 L368.5 502.7 L379 503.1 L389.6 508.1 L404 510 L415 498.5 L425.8 504.2 L436.3 500.8 L445.6 503.7 L454.8 514.6" fill="none" stroke="#111" stroke-width="1.5" stroke-dasharray="3 2" stroke-linejoin="round"/>
<path d="M92.8 437.8L96.2 443.9L89.4 443.9Z" fill="#111" stroke="#111" stroke-width="0.6" stroke-linejoin="round"/>
<path d="M103.3 479.9L106.7 486L99.9 486Z" fill="#111" stroke="#111" stroke-width="0.6" stroke-linejoin="round"/>
<path d="M108.9 483.6L112.3 489.7L105.5 489.7Z" fill="#111" stroke="#111" stroke-width="0.6" stroke-linejoin="round"/>
<path d="M125 500.3L128.4 506.4L121.6 506.4Z" fill="#111" stroke="#111" stroke-width="0.6" stroke-linejoin="round"/>
<path d="M135.5 502.1L138.9 508.2L132.1 508.2Z" fill="#111" stroke="#111" stroke-width="0.6" stroke-linejoin="round"/>
<path d="M144 511.1L147.4 517.2L140.6 517.2Z" fill="#111" stroke="#111" stroke-width="0.6" stroke-linejoin="round"/>
<path d="M151.5 515.2L154.9 521.3L148.1 521.3Z" fill="#111" stroke="#111" stroke-width="0.6" stroke-linejoin="round"/>
<path d="M162.5 507.1L165.9 513.2L159.1 513.2Z" fill="#111" stroke="#111" stroke-width="0.6" stroke-linejoin="round"/>
<path d="M172.9 495L176.3 501.1L169.5 501.1Z" fill="#111" stroke="#111" stroke-width="0.6" stroke-linejoin="round"/>
<path d="M179.8 508.8L183.2 514.9L176.4 514.9Z" fill="#111" stroke="#111" stroke-width="0.6" stroke-linejoin="round"/>
<path d="M191.3 497.3L194.7 503.4L187.9 503.4Z" fill="#111" stroke="#111" stroke-width="0.6" stroke-linejoin="round"/>
<path d="M202.5 491.1L205.9 497.2L199.1 497.2Z" fill="#111" stroke="#111" stroke-width="0.6" stroke-linejoin="round"/>
<path d="M212.7 493.4L216.1 499.5L209.3 499.5Z" fill="#111" stroke="#111" stroke-width="0.6" stroke-linejoin="round"/>
<path d="M224.2 508L227.6 514.1L220.8 514.1Z" fill="#111" stroke="#111" stroke-width="0.6" stroke-linejoin="round"/>
<path d="M236.8 497.5L240.2 503.6L233.4 503.6Z" fill="#111" stroke="#111" stroke-width="0.6" stroke-linejoin="round"/>
<path d="M247.3 502.8L250.7 508.9L243.9 508.9Z" fill="#111" stroke="#111" stroke-width="0.6" stroke-linejoin="round"/>
<path d="M261.7 492.3L265.1 498.4L258.3 498.4Z" fill="#111" stroke="#111" stroke-width="0.6" stroke-linejoin="round"/>
<path d="M275.2 479.8L278.6 485.9L271.8 485.9Z" fill="#111" stroke="#111" stroke-width="0.6" stroke-linejoin="round"/>
<path d="M285.8 487.5L289.2 493.6L282.4 493.6Z" fill="#111" stroke="#111" stroke-width="0.6" stroke-linejoin="round"/>
<path d="M296.3 488L299.7 494.1L292.9 494.1Z" fill="#111" stroke="#111" stroke-width="0.6" stroke-linejoin="round"/>
<path d="M306 474L309.4 480.1L302.6 480.1Z" fill="#111" stroke="#111" stroke-width="0.6" stroke-linejoin="round"/>
<path d="M315.6 467.3L319 473.4L312.2 473.4Z" fill="#111" stroke="#111" stroke-width="0.6" stroke-linejoin="round"/>
<path d="M326.5 468.5L329.9 474.6L323.1 474.6Z" fill="#111" stroke="#111" stroke-width="0.6" stroke-linejoin="round"/>
<path d="M336.9 469.4L340.3 475.5L333.5 475.5Z" fill="#111" stroke="#111" stroke-width="0.6" stroke-linejoin="round"/>
<path d="M347.3 476.5L350.7 482.6L343.9 482.6Z" fill="#111" stroke="#111" stroke-width="0.6" stroke-linejoin="round"/>
<path d="M357.9 479.6L361.3 485.7L354.5 485.7Z" fill="#111" stroke="#111" stroke-width="0.6" stroke-linejoin="round"/>
<path d="M368.5 455.9L371.9 462L365.1 462Z" fill="#111" stroke="#111" stroke-width="0.6" stroke-linejoin="round"/>
<path d="M379 445.7L382.4 451.8L375.6 451.8Z" fill="#111" stroke="#111" stroke-width="0.6" stroke-linejoin="round"/>
<path d="M389.6 457.3L393 463.4L386.2 463.4Z" fill="#111" stroke="#111" stroke-width="0.6" stroke-linejoin="round"/>
<path d="M404 462.3L407.4 468.4L400.6 468.4Z" fill="#111" stroke="#111" stroke-width="0.6" stroke-linejoin="round"/>
<path d="M415 438L418.4 444.1L411.6 444.1Z" fill="#111" stroke="#111" stroke-width="0.6" stroke-linejoin="round"/>
<path d="M425.8 454L429.2 460.1L422.4 460.1Z" fill="#111" stroke="#111" stroke-width="0.6" stroke-linejoin="round"/>
<path d="M436.3 445.3L439.7 451.4L432.9 451.4Z" fill="#111" stroke="#111" stroke-width="0.6" stroke-linejoin="round"/>
<path d="M446.2 445.7L449.6 451.8L442.8 451.8Z" fill="#111" stroke="#111" stroke-width="0.6" stroke-linejoin="round"/>
<path d="M454.8 461.1L458.2 467.2L451.4 467.2Z" fill="#111" stroke="#111" stroke-width="0.6" stroke-linejoin="round"/>
<path d="M463.8 461.7L467.2 467.8L460.4 467.8Z" fill="#111" stroke="#111" stroke-width="0.6" stroke-linejoin="round"/>
<path d="M474 468L477.4 474.1L470.6 474.1Z" fill="#111" stroke="#111" stroke-width="0.6" stroke-linejoin="round"/>
<path d="M485 456.9L488.4 463L481.6 463Z" fill="#111" stroke="#111" stroke-width="0.6" stroke-linejoin="round"/>
<path d="M92.6 468.1L96 474.2L89.2 474.2Z" fill="#111" stroke="#111" stroke-width="0.6" stroke-linejoin="round"/>
<path d="M102.1 501.5L105.5 507.6L98.7 507.6Z" fill="#111" stroke="#111" stroke-width="0.6" stroke-linejoin="round"/>
<path d="M108.9 506.5L112.3 512.6L105.5 512.6Z" fill="#111" stroke="#111" stroke-width="0.6" stroke-linejoin="round"/>
<path d="M125 505.2L128.4 511.3L121.6 511.3Z" fill="#111" stroke="#111" stroke-width="0.6" stroke-linejoin="round"/>
<path d="M135.5 504.6L138.9 510.7L132.1 510.7Z" fill="#111" stroke="#111" stroke-width="0.6" stroke-linejoin="round"/>
<path d="M144 504.2L147.4 510.3L140.6 510.3Z" fill="#111" stroke="#111" stroke-width="0.6" stroke-linejoin="round"/>
<path d="M151.5 501.3L154.9 507.4L148.1 507.4Z" fill="#111" stroke="#111" stroke-width="0.6" stroke-linejoin="round"/>
<path d="M162.5 495.5L165.9 501.6L159.1 501.6Z" fill="#111" stroke="#111" stroke-width="0.6" stroke-linejoin="round"/>
<path d="M172.6 508.2L176 514.3L169.2 514.3Z" fill="#111" stroke="#111" stroke-width="0.6" stroke-linejoin="round"/>
<path d="M179.8 511.3L183.2 517.4L176.4 517.4Z" fill="#111" stroke="#111" stroke-width="0.6" stroke-linejoin="round"/>
<path d="M191.3 509.4L194.7 515.5L187.9 515.5Z" fill="#111" stroke="#111" stroke-width="0.6" stroke-linejoin="round"/>
<path d="M202.5 516.5L205.9 522.6L199.1 522.6Z" fill="#111" stroke="#111" stroke-width="0.6" stroke-linejoin="round"/>
<path d="M212.7 517.7L216.1 523.8L209.3 523.8Z" fill="#111" stroke="#111" stroke-width="0.6" stroke-linejoin="round"/>
<path d="M224.2 522.8L227.6 528.9L220.8 528.9Z" fill="#111" stroke="#111" stroke-width="0.6" stroke-linejoin="round"/>
<path d="M236.7 512.5L240.1 518.6L233.3 518.6Z" fill="#111" stroke="#111" stroke-width="0.6" stroke-linejoin="round"/>
<path d="M247.3 518.2L250.7 524.3L243.9 524.3Z" fill="#111" stroke="#111" stroke-width="0.6" stroke-linejoin="round"/>
<path d="M261.7 510.5L265.1 516.6L258.3 516.6Z" fill="#111" stroke="#111" stroke-width="0.6" stroke-linejoin="round"/>
<path d="M275.2 516.9L278.6 523L271.8 523Z" fill="#111" stroke="#111" stroke-width="0.6" stroke-linejoin="round"/>
<path d="M285.8 533.6L289.2 539.7L282.4 539.7Z" fill="#111" stroke="#111" stroke-width="0.6" stroke-linejoin="round"/>
<path d="M296.3 545.2L299.7 551.3L292.9 551.3Z" fill="#111" stroke="#111" stroke-width="0.6" stroke-linejoin="round"/>
<path d="M92.6 458.2L96 464.3L89.2 464.3Z" fill="#111" stroke="#111" stroke-width="0.6" stroke-linejoin="round"/>
<path d="M103.3 484.2L106.7 490.3L99.9 490.3Z" fill="#111" stroke="#111" stroke-width="0.6" stroke-linejoin="round"/>
<path d="M108.9 490.4L112.3 496.5L105.5 496.5Z" fill="#111" stroke="#111" stroke-width="0.6" stroke-linejoin="round"/>
<path d="M125 491L128.4 497.1L121.6 497.1Z" fill="#111" stroke="#111" stroke-width="0.6" stroke-linejoin="round"/>
<path d="M135.5 492.2L138.9 498.3L132.1 498.3Z" fill="#111" stroke="#111" stroke-width="0.6" stroke-linejoin="round"/>
<path d="M144 493.8L147.4 499.9L140.6 499.9Z" fill="#111" stroke="#111" stroke-width="0.6" stroke-linejoin="round"/>
<path d="M151.5 487.5L154.9 493.6L148.1 493.6Z" fill="#111" stroke="#111" stroke-width="0.6" stroke-linejoin="round"/>
<path d="M162.5 486.9L165.9 493L159.1 493Z" fill="#111" stroke="#111" stroke-width="0.6" stroke-linejoin="round"/>
<path d="M172.6 495L176 501.1L169.2 501.1Z" fill="#111" stroke="#111" stroke-width="0.6" stroke-linejoin="round"/>
<path d="M179.8 494.4L183.2 500.5L176.4 500.5Z" fill="#111" stroke="#111" stroke-width="0.6" stroke-linejoin="round"/>
<path d="M191.3 497.3L194.7 503.4L187.9 503.4Z" fill="#111" stroke="#111" stroke-width="0.6" stroke-linejoin="round"/>
<path d="M202.5 497.3L205.9 503.4L199.1 503.4Z" fill="#111" stroke="#111" stroke-width="0.6" stroke-linejoin="round"/>
<path d="M212.7 502.3L216.1 508.4L209.3 508.4Z" fill="#111" stroke="#111" stroke-width="0.6" stroke-linejoin="round"/>
<path d="M224.2 508L227.6 514.1L220.8 514.1Z" fill="#111" stroke="#111" stroke-width="0.6" stroke-linejoin="round"/>
<path d="M236.7 497.7L240.1 503.8L233.3 503.8Z" fill="#111" stroke="#111" stroke-width="0.6" stroke-linejoin="round"/>
<path d="M247.3 507.7L250.7 513.8L243.9 513.8Z" fill="#111" stroke="#111" stroke-width="0.6" stroke-linejoin="round"/>
<path d="M261.7 503.8L265.1 509.9L258.3 509.9Z" fill="#111" stroke="#111" stroke-width="0.6" stroke-linejoin="round"/>
<path d="M275.2 498.4L278.6 504.5L271.8 504.5Z" fill="#111" stroke="#111" stroke-width="0.6" stroke-linejoin="round"/>
<path d="M285.8 504.8L289.2 510.9L282.4 510.9Z" fill="#111" stroke="#111" stroke-width="0.6" stroke-linejoin="round"/>
<path d="M296.3 502.8L299.7 508.9L292.9 508.9Z" fill="#111" stroke="#111" stroke-width="0.6" stroke-linejoin="round"/>
<path d="M306 489.4L309.4 495.5L302.6 495.5Z" fill="#111" stroke="#111" stroke-width="0.6" stroke-linejoin="round"/>
<path d="M315.6 487.5L319 493.6L312.2 493.6Z" fill="#111" stroke="#111" stroke-width="0.6" stroke-linejoin="round"/>
<path d="M326.2 505.9L329.6 512L322.8 512Z" fill="#111" stroke="#111" stroke-width="0.6" stroke-linejoin="round"/>
<path d="M336.9 502.1L340.3 508.2L333.5 508.2Z" fill="#111" stroke="#111" stroke-width="0.6" stroke-linejoin="round"/>
<path d="M347.3 508.4L350.7 514.5L343.9 514.5Z" fill="#111" stroke="#111" stroke-width="0.6" stroke-linejoin="round"/>
<path d="M357.9 504.6L361.3 510.7L354.5 510.7Z" fill="#111" stroke="#111" stroke-width="0.6" stroke-linejoin="round"/>
<path d="M368.5 501.1L371.9 507.2L365.1 507.2Z" fill="#111" stroke="#111" stroke-width="0.6" stroke-linejoin="round"/>
<path d="M379 499.6L382.4 505.7L375.6 505.7Z" fill="#111" stroke="#111" stroke-width="0.6" stroke-linejoin="round"/>
<path d="M389.6 508.4L393 514.5L386.2 514.5Z" fill="#111" stroke="#111" stroke-width="0.6" stroke-linejoin="round"/>
<path d="M404 511.7L407.4 517.8L400.6 517.8Z" fill="#111" stroke="#111" stroke-width="0.6" stroke-linejoin="round"/>
<path d="M92.6 467.5L96 473.6L89.2 473.6Z" fill="#111" stroke="#111" stroke-width="0.6" stroke-linejoin="round"/>
<path d="M103.3 483.5L106.7 489.6L99.9 489.6Z" fill="#111" stroke="#111" stroke-width="0.6" stroke-linejoin="round"/>
<path d="M108.9 495.9L112.3 502L105.5 502Z" fill="#111" stroke="#111" stroke-width="0.6" stroke-linejoin="round"/>
<path d="M125 483L128.4 489.1L121.6 489.1Z" fill="#111" stroke="#111" stroke-width="0.6" stroke-linejoin="round"/>
<path d="M135.5 488.5L138.9 494.6L132.1 494.6Z" fill="#111" stroke="#111" stroke-width="0.6" stroke-linejoin="round"/>
<path d="M144 493.8L147.4 499.9L140.6 499.9Z" fill="#111" stroke="#111" stroke-width="0.6" stroke-linejoin="round"/>
<path d="M151.5 487.5L154.9 493.6L148.1 493.6Z" fill="#111" stroke="#111" stroke-width="0.6" stroke-linejoin="round"/>
<path d="M162.5 486.9L165.9 493L159.1 493Z" fill="#111" stroke="#111" stroke-width="0.6" stroke-linejoin="round"/>
<path d="M172.6 495L176 501.1L169.2 501.1Z" fill="#111" stroke="#111" stroke-width="0.6" stroke-linejoin="round"/>
<path d="M179.8 494L183.2 500.1L176.4 500.1Z" fill="#111" stroke="#111" stroke-width="0.6" stroke-linejoin="round"/>
<path d="M191.3 496.9L194.7 503L187.9 503Z" fill="#111" stroke="#111" stroke-width="0.6" stroke-linejoin="round"/>
<path d="M202.5 497.3L205.9 503.4L199.1 503.4Z" fill="#111" stroke="#111" stroke-width="0.6" stroke-linejoin="round"/>
<path d="M212.7 502.3L216.1 508.4L209.3 508.4Z" fill="#111" stroke="#111" stroke-width="0.6" stroke-linejoin="round"/>
<path d="M224.2 508L227.6 514.1L220.8 514.1Z" fill="#111" stroke="#111" stroke-width="0.6" stroke-linejoin="round"/>
<path d="M236.7 497.7L240.1 503.8L233.3 503.8Z" fill="#111" stroke="#111" stroke-width="0.6" stroke-linejoin="round"/>
<path d="M247.3 502.8L250.7 508.9L243.9 508.9Z" fill="#111" stroke="#111" stroke-width="0.6" stroke-linejoin="round"/>
<path d="M261.7 503.8L265.1 509.9L258.3 509.9Z" fill="#111" stroke="#111" stroke-width="0.6" stroke-linejoin="round"/>
<path d="M275.2 484.6L278.6 490.7L271.8 490.7Z" fill="#111" stroke="#111" stroke-width="0.6" stroke-linejoin="round"/>
<path d="M285.8 504.8L289.2 510.9L282.4 510.9Z" fill="#111" stroke="#111" stroke-width="0.6" stroke-linejoin="round"/>
<path d="M296.3 502.8L299.7 508.9L292.9 508.9Z" fill="#111" stroke="#111" stroke-width="0.6" stroke-linejoin="round"/>
<path d="M306 483.6L309.4 489.7L302.6 489.7Z" fill="#111" stroke="#111" stroke-width="0.6" stroke-linejoin="round"/>
<path d="M315.6 482.7L319 488.8L312.2 488.8Z" fill="#111" stroke="#111" stroke-width="0.6" stroke-linejoin="round"/>
<path d="M326.2 496.3L329.6 502.4L322.8 502.4Z" fill="#111" stroke="#111" stroke-width="0.6" stroke-linejoin="round"/>
<path d="M336.9 498.8L340.3 504.9L333.5 504.9Z" fill="#111" stroke="#111" stroke-width="0.6" stroke-linejoin="round"/>
<path d="M347.3 505.3L350.7 511.4L343.9 511.4Z" fill="#111" stroke="#111" stroke-width="0.6" stroke-linejoin="round"/>
<path d="M357.9 504.6L361.3 510.7L354.5 510.7Z" fill="#111" stroke="#111" stroke-width="0.6" stroke-linejoin="round"/>
<path d="M368.5 499.2L371.9 505.3L365.1 505.3Z" fill="#111" stroke="#111" stroke-width="0.6" stroke-linejoin="round"/>
<path d="M379 499.6L382.4 505.7L375.6 505.7Z" fill="#111" stroke="#111" stroke-width="0.6" stroke-linejoin="round"/>
<path d="M389.6 504.6L393 510.7L386.2 510.7Z" fill="#111" stroke="#111" stroke-width="0.6" stroke-linejoin="round"/>
<path d="M404 506.5L407.4 512.6L400.6 512.6Z" fill="#111" stroke="#111" stroke-width="0.6" stroke-linejoin="round"/>
<path d="M415 495L418.4 501.1L411.6 501.1Z" fill="#111" stroke="#111" stroke-width="0.6" stroke-linejoin="round"/>
<path d="M425.8 500.7L429.2 506.8L422.4 506.8Z" fill="#111" stroke="#111" stroke-width="0.6" stroke-linejoin="round"/>
<path d="M436.3 497.3L439.7 503.4L432.9 503.4Z" fill="#111" stroke="#111" stroke-width="0.6" stroke-linejoin="round"/>
<path d="M445.6 500.2L449 506.3L442.2 506.3Z" fill="#111" stroke="#111" stroke-width="0.6" stroke-linejoin="round"/>
<path d="M454.8 511.1L458.2 517.2L451.4 517.2Z" fill="#111" stroke="#111" stroke-width="0.6" stroke-linejoin="round"/>
<path d="M307.9 546.8V557.4 M304.8 550.1H311" stroke="#111" stroke-width="1.75"/>
<path d="M418.6 518.8V529.4 M415.5 522.1H421.7" stroke="#111" stroke-width="1.75"/>
<path d="M467.1 514.8V525.4 M464 518.1H470.2" stroke="#111" stroke-width="1.75"/>
<path d="M93.1 630.8 L103.3 669.8 L109.6 681.3 L126.1 682.3 L135.9 683 L144.9 684.3 L152.7 682.3 L163.1 689 L173.2 692.8 L181 682.3 L192.7 683.1 L203.1 665.8 L213.8 664.8 L225.8 656.2 L237.3 654.6 L247.9 656.2 L262.7 638.8 L276.2 641.2 L286.7 639.8 L296.9 650 L306 639.8 L316.2 645 L327.1 645.6 L337.3 650.4 L348.2 644.6 L358.3 638.5 L368.8 645 L379.4 634.6 L390 645.6 L405.4 643.1 L416 637.9 L426.2 633.7 L436.9 631 L446.9 632.9 L455.6 635.4 L464.6 627.7 L474.8 630 L485.4 625.2" fill="none" stroke="#111" stroke-width="1.5" stroke-dasharray="3 2" stroke-linejoin="round"/>
<path d="M93.1 660.2 L103.3 708.3 L109.6 712.1 L126.1 697.8 L135.9 687 L144.9 689 L152.7 686.3 L163.1 686.1 L173.2 688.4 L181 685 L192.7 658.5 L203.1 650.4 L213.8 658.5 L225.8 659 L237.3 654.6 L247.9 660.4 L262.7 654.2 L276.2 651.3 L286.7 655.8 L296.9 657.7 L306 652.7 L316.2 655.2 L327.1 683.1 L337.3 659.6 L348.2 659.3 L358.3 654.6 L368.8 665.8 L379.4 657.1 L390 661.5 L405.4 653.3 L416 654.2 L426.2 653.4 L436.9 645 L446.9 647.3 L455.6 651.5 L464.6 646.3 L474.8 646.9 L485.4 648.8" fill="none" stroke="#111" stroke-width="2.0" stroke-linejoin="round"/>
<path d="M93.1 649.6 L103.3 678.1 L109.6 699.2 L126.1 689 L135.9 691.7 L144.9 692.8 L152.7 694.4 L163.1 686.1 L173.2 688.4 L181 662.8 L192.7 683.1 L203.1 680.2 L213.8 673.8 L225.8 659 L237.3 677.3 L247.9 673.8 L262.7 662.3 L276.2 657.1 L286.7 657.1 L296.9 665.8 L306 657.7 L316.2 664.2 L327.1 670.6 L337.3 667.3 L348.2 675.4 L358.3 666.7 L368.8 667.7 L379.4 661.9 L390 675 L405.4 671.5 L416 666.7 L426.2 666.5 L436.9 660.8 L446.9 661.7 L455.6 668.1 L464.6 658.5 L474.8 656.5 L485.4 660.8" fill="none" stroke="#111" stroke-width="1.4" stroke-dasharray="3 1.6 1.2 1.6" stroke-linejoin="round"/>
<path d="M93.1 660.2 L103.3 697.7 L109.6 699.2 L126.1 689 L135.9 691.7 L144.9 692.8 L152.7 694.4 L163.1 689 L173.2 692.8 L181 687.9 L192.7 691.7 L203.1 701.3 L213.8 693.1 L225.8 692.3 L237.3 687.9 L247.9 686.9 L262.7 671.9 L276.2 663.8 L286.7 666.7 L296.9 674.4 L306 665.8 L316.2 664.2 L327.1 683.1 L337.3 674.4 L348.2 676.3 L358.3 667.7 L368.8 683.7 L379.4 678.8 L390 682.1 L405.4 677.7 L416 669.6 L426.2 668.5 L436.9 666.9 L446.9 677.1 L455.6 688.1 L464.6 671.9 L474.8 674.6 L485.4 680.4" fill="none" stroke="#111" stroke-width="1.6" stroke-dasharray="1.4 1.3" stroke-linejoin="round"/>
<path d="M93.1 628L95.8 633L90.4 633Z" fill="#fff" stroke="#111" stroke-width="1.6" stroke-linejoin="round"/>
<path d="M103.3 667L106 672L100.6 672Z" fill="#fff" stroke="#111" stroke-width="1.6" stroke-linejoin="round"/>
<path d="M109.6 678.5L112.2 683.5L106.9 683.5Z" fill="#fff" stroke="#111" stroke-width="1.6" stroke-linejoin="round"/>
<path d="M126.1 679.5L128.8 684.5L123.4 684.5Z" fill="#fff" stroke="#111" stroke-width="1.6" stroke-linejoin="round"/>
<path d="M135.9 680.2L138.6 685.2L133.2 685.2Z" fill="#fff" stroke="#111" stroke-width="1.6" stroke-linejoin="round"/>
<path d="M144.9 681.5L147.6 686.5L142.2 686.5Z" fill="#fff" stroke="#111" stroke-width="1.6" stroke-linejoin="round"/>
<path d="M152.7 679.5L155.3 684.5L150 684.5Z" fill="#fff" stroke="#111" stroke-width="1.6" stroke-linejoin="round"/>
<path d="M163.1 686.2L165.8 691.2L160.4 691.2Z" fill="#fff" stroke="#111" stroke-width="1.6" stroke-linejoin="round"/>
<path d="M173.2 690L175.8 695L170.5 695Z" fill="#fff" stroke="#111" stroke-width="1.6" stroke-linejoin="round"/>
<path d="M181 679.5L183.7 684.5L178.3 684.5Z" fill="#fff" stroke="#111" stroke-width="1.6" stroke-linejoin="round"/>
<path d="M192.7 680.3L195.3 685.3L190 685.3Z" fill="#fff" stroke="#111" stroke-width="1.6" stroke-linejoin="round"/>
<path d="M203.1 663L205.8 668L200.4 668Z" fill="#fff" stroke="#111" stroke-width="1.6" stroke-linejoin="round"/>
<path d="M213.8 662L216.5 667L211.2 667Z" fill="#fff" stroke="#111" stroke-width="1.6" stroke-linejoin="round"/>
<path d="M225.8 653.4L228.5 658.4L223.2 658.4Z" fill="#fff" stroke="#111" stroke-width="1.6" stroke-linejoin="round"/>
<path d="M237.3 651.8L240 656.8L234.7 656.8Z" fill="#fff" stroke="#111" stroke-width="1.6" stroke-linejoin="round"/>
<path d="M247.9 653.4L250.6 658.4L245.2 658.4Z" fill="#fff" stroke="#111" stroke-width="1.6" stroke-linejoin="round"/>
<path d="M262.7 636L265.3 641L260.1 641Z" fill="#fff" stroke="#111" stroke-width="1.6" stroke-linejoin="round"/>
<path d="M276.2 638.4L278.8 643.4L273.6 643.4Z" fill="#fff" stroke="#111" stroke-width="1.6" stroke-linejoin="round"/>
<path d="M286.7 637L289.3 642L284.1 642Z" fill="#fff" stroke="#111" stroke-width="1.6" stroke-linejoin="round"/>
<path d="M296.9 647.2L299.5 652.2L294.2 652.2Z" fill="#fff" stroke="#111" stroke-width="1.6" stroke-linejoin="round"/>
<path d="M306 637L308.6 642L303.4 642Z" fill="#fff" stroke="#111" stroke-width="1.6" stroke-linejoin="round"/>
<path d="M316.2 642.2L318.8 647.2L313.6 647.2Z" fill="#fff" stroke="#111" stroke-width="1.6" stroke-linejoin="round"/>
<path d="M327.1 642.8L329.8 647.8L324.5 647.8Z" fill="#fff" stroke="#111" stroke-width="1.6" stroke-linejoin="round"/>
<path d="M337.3 647.6L339.9 652.6L334.7 652.6Z" fill="#fff" stroke="#111" stroke-width="1.6" stroke-linejoin="round"/>
<path d="M348.2 641.8L350.8 646.8L345.6 646.8Z" fill="#fff" stroke="#111" stroke-width="1.6" stroke-linejoin="round"/>
<path d="M358.3 635.7L360.9 640.7L355.7 640.7Z" fill="#fff" stroke="#111" stroke-width="1.6" stroke-linejoin="round"/>
<path d="M368.8 642.2L371.4 647.2L366.2 647.2Z" fill="#fff" stroke="#111" stroke-width="1.6" stroke-linejoin="round"/>
<path d="M379.4 631.8L382 636.8L376.8 636.8Z" fill="#fff" stroke="#111" stroke-width="1.6" stroke-linejoin="round"/>
<path d="M390 642.8L392.6 647.8L387.4 647.8Z" fill="#fff" stroke="#111" stroke-width="1.6" stroke-linejoin="round"/>
<path d="M405.4 640.3L408 645.3L402.8 645.3Z" fill="#fff" stroke="#111" stroke-width="1.6" stroke-linejoin="round"/>
<path d="M416 635.1L418.6 640.1L413.4 640.1Z" fill="#fff" stroke="#111" stroke-width="1.6" stroke-linejoin="round"/>
<path d="M426.2 630.9L428.8 635.9L423.6 635.9Z" fill="#fff" stroke="#111" stroke-width="1.6" stroke-linejoin="round"/>
<path d="M436.9 628.2L439.5 633.2L434.2 633.2Z" fill="#fff" stroke="#111" stroke-width="1.6" stroke-linejoin="round"/>
<path d="M446.9 630.1L449.5 635.1L444.2 635.1Z" fill="#fff" stroke="#111" stroke-width="1.6" stroke-linejoin="round"/>
<path d="M455.6 632.6L458.2 637.6L453 637.6Z" fill="#fff" stroke="#111" stroke-width="1.6" stroke-linejoin="round"/>
<path d="M464.6 624.9L467.2 629.9L462 629.9Z" fill="#fff" stroke="#111" stroke-width="1.6" stroke-linejoin="round"/>
<path d="M474.8 627.2L477.4 632.2L472.2 632.2Z" fill="#fff" stroke="#111" stroke-width="1.6" stroke-linejoin="round"/>
<path d="M485.4 622.4L488 627.4L482.8 627.4Z" fill="#fff" stroke="#111" stroke-width="1.6" stroke-linejoin="round"/>
<path d="M93.1 657.4L95.8 662.4L90.4 662.4Z" fill="#fff" stroke="#111" stroke-width="1.6" stroke-linejoin="round"/>
<path d="M103.3 705.5L106 710.5L100.6 710.5Z" fill="#fff" stroke="#111" stroke-width="1.6" stroke-linejoin="round"/>
<path d="M109.6 709.3L112.2 714.3L106.9 714.3Z" fill="#fff" stroke="#111" stroke-width="1.6" stroke-linejoin="round"/>
<path d="M126.1 695L128.8 700L123.4 700Z" fill="#fff" stroke="#111" stroke-width="1.6" stroke-linejoin="round"/>
<path d="M135.9 684.2L138.6 689.2L133.2 689.2Z" fill="#fff" stroke="#111" stroke-width="1.6" stroke-linejoin="round"/>
<path d="M144.9 686.2L147.6 691.2L142.2 691.2Z" fill="#fff" stroke="#111" stroke-width="1.6" stroke-linejoin="round"/>
<path d="M152.7 683.5L155.3 688.5L150 688.5Z" fill="#fff" stroke="#111" stroke-width="1.6" stroke-linejoin="round"/>
<path d="M163.1 683.3L165.8 688.3L160.4 688.3Z" fill="#fff" stroke="#111" stroke-width="1.6" stroke-linejoin="round"/>
<path d="M173.2 685.6L175.8 690.6L170.5 690.6Z" fill="#fff" stroke="#111" stroke-width="1.6" stroke-linejoin="round"/>
<path d="M181 682.2L183.7 687.2L178.3 687.2Z" fill="#fff" stroke="#111" stroke-width="1.6" stroke-linejoin="round"/>
<path d="M192.7 655.7L195.3 660.7L190 660.7Z" fill="#fff" stroke="#111" stroke-width="1.6" stroke-linejoin="round"/>
<path d="M203.1 647.6L205.8 652.6L200.4 652.6Z" fill="#fff" stroke="#111" stroke-width="1.6" stroke-linejoin="round"/>
<path d="M213.8 655.7L216.5 660.7L211.2 660.7Z" fill="#fff" stroke="#111" stroke-width="1.6" stroke-linejoin="round"/>
<path d="M225.8 656.2L228.5 661.2L223.2 661.2Z" fill="#fff" stroke="#111" stroke-width="1.6" stroke-linejoin="round"/>
<path d="M237.3 651.8L240 656.8L234.7 656.8Z" fill="#fff" stroke="#111" stroke-width="1.6" stroke-linejoin="round"/>
<path d="M247.9 657.6L250.6 662.6L245.2 662.6Z" fill="#fff" stroke="#111" stroke-width="1.6" stroke-linejoin="round"/>
<path d="M262.7 651.4L265.3 656.4L260.1 656.4Z" fill="#fff" stroke="#111" stroke-width="1.6" stroke-linejoin="round"/>
<path d="M276.2 648.5L278.8 653.5L273.6 653.5Z" fill="#fff" stroke="#111" stroke-width="1.6" stroke-linejoin="round"/>
<path d="M286.7 653L289.3 658L284.1 658Z" fill="#fff" stroke="#111" stroke-width="1.6" stroke-linejoin="round"/>
<path d="M296.9 654.9L299.5 659.9L294.2 659.9Z" fill="#fff" stroke="#111" stroke-width="1.6" stroke-linejoin="round"/>
<path d="M306 649.9L308.6 654.9L303.4 654.9Z" fill="#fff" stroke="#111" stroke-width="1.6" stroke-linejoin="round"/>
<path d="M316.2 652.4L318.8 657.4L313.6 657.4Z" fill="#fff" stroke="#111" stroke-width="1.6" stroke-linejoin="round"/>
<path d="M327.1 680.3L329.8 685.3L324.5 685.3Z" fill="#fff" stroke="#111" stroke-width="1.6" stroke-linejoin="round"/>
<path d="M337.3 656.8L339.9 661.8L334.7 661.8Z" fill="#fff" stroke="#111" stroke-width="1.6" stroke-linejoin="round"/>
<path d="M348.2 656.5L350.8 661.5L345.6 661.5Z" fill="#fff" stroke="#111" stroke-width="1.6" stroke-linejoin="round"/>
<path d="M358.3 651.8L360.9 656.8L355.7 656.8Z" fill="#fff" stroke="#111" stroke-width="1.6" stroke-linejoin="round"/>
<path d="M368.8 663L371.4 668L366.2 668Z" fill="#fff" stroke="#111" stroke-width="1.6" stroke-linejoin="round"/>
<path d="M379.4 654.3L382 659.3L376.8 659.3Z" fill="#fff" stroke="#111" stroke-width="1.6" stroke-linejoin="round"/>
<path d="M390 658.7L392.6 663.7L387.4 663.7Z" fill="#fff" stroke="#111" stroke-width="1.6" stroke-linejoin="round"/>
<path d="M405.4 650.5L408 655.5L402.8 655.5Z" fill="#fff" stroke="#111" stroke-width="1.6" stroke-linejoin="round"/>
<path d="M416 651.4L418.6 656.4L413.4 656.4Z" fill="#fff" stroke="#111" stroke-width="1.6" stroke-linejoin="round"/>
<path d="M426.2 650.6L428.8 655.6L423.6 655.6Z" fill="#fff" stroke="#111" stroke-width="1.6" stroke-linejoin="round"/>
<path d="M436.9 642.2L439.5 647.2L434.2 647.2Z" fill="#fff" stroke="#111" stroke-width="1.6" stroke-linejoin="round"/>
<path d="M446.9 644.5L449.5 649.5L444.2 649.5Z" fill="#fff" stroke="#111" stroke-width="1.6" stroke-linejoin="round"/>
<path d="M455.6 648.7L458.2 653.7L453 653.7Z" fill="#fff" stroke="#111" stroke-width="1.6" stroke-linejoin="round"/>
<path d="M464.6 643.5L467.2 648.5L462 648.5Z" fill="#fff" stroke="#111" stroke-width="1.6" stroke-linejoin="round"/>
<path d="M474.8 644.1L477.4 649.1L472.2 649.1Z" fill="#fff" stroke="#111" stroke-width="1.6" stroke-linejoin="round"/>
<path d="M485.4 646L488 651L482.8 651Z" fill="#fff" stroke="#111" stroke-width="1.6" stroke-linejoin="round"/>
<path d="M93.1 646.8L95.8 651.8L90.4 651.8Z" fill="#fff" stroke="#111" stroke-width="1.6" stroke-linejoin="round"/>
<path d="M103.3 675.3L106 680.3L100.6 680.3Z" fill="#fff" stroke="#111" stroke-width="1.6" stroke-linejoin="round"/>
<path d="M109.6 696.4L112.2 701.4L106.9 701.4Z" fill="#fff" stroke="#111" stroke-width="1.6" stroke-linejoin="round"/>
<path d="M126.1 686.2L128.8 691.2L123.4 691.2Z" fill="#fff" stroke="#111" stroke-width="1.6" stroke-linejoin="round"/>
<path d="M135.9 688.9L138.6 693.9L133.2 693.9Z" fill="#fff" stroke="#111" stroke-width="1.6" stroke-linejoin="round"/>
<path d="M144.9 690L147.6 695L142.2 695Z" fill="#fff" stroke="#111" stroke-width="1.6" stroke-linejoin="round"/>
<path d="M152.7 691.6L155.3 696.6L150 696.6Z" fill="#fff" stroke="#111" stroke-width="1.6" stroke-linejoin="round"/>
<path d="M163.1 683.3L165.8 688.3L160.4 688.3Z" fill="#fff" stroke="#111" stroke-width="1.6" stroke-linejoin="round"/>
<path d="M173.2 685.6L175.8 690.6L170.5 690.6Z" fill="#fff" stroke="#111" stroke-width="1.6" stroke-linejoin="round"/>
<path d="M181 660L183.7 665L178.3 665Z" fill="#fff" stroke="#111" stroke-width="1.6" stroke-linejoin="round"/>
<path d="M192.7 680.3L195.3 685.3L190 685.3Z" fill="#fff" stroke="#111" stroke-width="1.6" stroke-linejoin="round"/>
<path d="M203.1 677.4L205.8 682.4L200.4 682.4Z" fill="#fff" stroke="#111" stroke-width="1.6" stroke-linejoin="round"/>
<path d="M213.8 671L216.5 676L211.2 676Z" fill="#fff" stroke="#111" stroke-width="1.6" stroke-linejoin="round"/>
<path d="M225.8 656.2L228.5 661.2L223.2 661.2Z" fill="#fff" stroke="#111" stroke-width="1.6" stroke-linejoin="round"/>
<path d="M237.3 674.5L240 679.5L234.7 679.5Z" fill="#fff" stroke="#111" stroke-width="1.6" stroke-linejoin="round"/>
<path d="M247.9 671L250.6 676L245.2 676Z" fill="#fff" stroke="#111" stroke-width="1.6" stroke-linejoin="round"/>
<path d="M262.7 659.5L265.3 664.5L260.1 664.5Z" fill="#fff" stroke="#111" stroke-width="1.6" stroke-linejoin="round"/>
<path d="M276.2 654.3L278.8 659.3L273.6 659.3Z" fill="#fff" stroke="#111" stroke-width="1.6" stroke-linejoin="round"/>
<path d="M286.7 654.3L289.3 659.3L284.1 659.3Z" fill="#fff" stroke="#111" stroke-width="1.6" stroke-linejoin="round"/>
<path d="M296.9 663L299.5 668L294.2 668Z" fill="#fff" stroke="#111" stroke-width="1.6" stroke-linejoin="round"/>
<path d="M306 654.9L308.6 659.9L303.4 659.9Z" fill="#fff" stroke="#111" stroke-width="1.6" stroke-linejoin="round"/>
<path d="M316.2 661.4L318.8 666.4L313.6 666.4Z" fill="#fff" stroke="#111" stroke-width="1.6" stroke-linejoin="round"/>
<path d="M327.1 667.8L329.8 672.8L324.5 672.8Z" fill="#fff" stroke="#111" stroke-width="1.6" stroke-linejoin="round"/>
<path d="M337.3 664.5L339.9 669.5L334.7 669.5Z" fill="#fff" stroke="#111" stroke-width="1.6" stroke-linejoin="round"/>
<path d="M348.2 672.6L350.8 677.6L345.6 677.6Z" fill="#fff" stroke="#111" stroke-width="1.6" stroke-linejoin="round"/>
<path d="M358.3 663.9L360.9 668.9L355.7 668.9Z" fill="#fff" stroke="#111" stroke-width="1.6" stroke-linejoin="round"/>
<path d="M368.8 664.9L371.4 669.9L366.2 669.9Z" fill="#fff" stroke="#111" stroke-width="1.6" stroke-linejoin="round"/>
<path d="M379.4 659.1L382 664.1L376.8 664.1Z" fill="#fff" stroke="#111" stroke-width="1.6" stroke-linejoin="round"/>
<path d="M390 672.2L392.6 677.2L387.4 677.2Z" fill="#fff" stroke="#111" stroke-width="1.6" stroke-linejoin="round"/>
<path d="M405.4 668.7L408 673.7L402.8 673.7Z" fill="#fff" stroke="#111" stroke-width="1.6" stroke-linejoin="round"/>
<path d="M416 663.9L418.6 668.9L413.4 668.9Z" fill="#fff" stroke="#111" stroke-width="1.6" stroke-linejoin="round"/>
<path d="M426.2 663.7L428.8 668.7L423.6 668.7Z" fill="#fff" stroke="#111" stroke-width="1.6" stroke-linejoin="round"/>
<path d="M436.9 658L439.5 663L434.2 663Z" fill="#fff" stroke="#111" stroke-width="1.6" stroke-linejoin="round"/>
<path d="M446.9 658.9L449.5 663.9L444.2 663.9Z" fill="#fff" stroke="#111" stroke-width="1.6" stroke-linejoin="round"/>
<path d="M455.6 665.3L458.2 670.3L453 670.3Z" fill="#fff" stroke="#111" stroke-width="1.6" stroke-linejoin="round"/>
<path d="M464.6 655.7L467.2 660.7L462 660.7Z" fill="#fff" stroke="#111" stroke-width="1.6" stroke-linejoin="round"/>
<path d="M474.8 653.7L477.4 658.7L472.2 658.7Z" fill="#fff" stroke="#111" stroke-width="1.6" stroke-linejoin="round"/>
<path d="M485.4 658L488 663L482.8 663Z" fill="#fff" stroke="#111" stroke-width="1.6" stroke-linejoin="round"/>
<path d="M93.1 657.4L95.8 662.4L90.4 662.4Z" fill="#fff" stroke="#111" stroke-width="1.6" stroke-linejoin="round"/>
<path d="M103.3 694.9L106 699.9L100.6 699.9Z" fill="#fff" stroke="#111" stroke-width="1.6" stroke-linejoin="round"/>
<path d="M109.6 696.4L112.2 701.4L106.9 701.4Z" fill="#fff" stroke="#111" stroke-width="1.6" stroke-linejoin="round"/>
<path d="M126.1 686.2L128.8 691.2L123.4 691.2Z" fill="#fff" stroke="#111" stroke-width="1.6" stroke-linejoin="round"/>
<path d="M135.9 688.9L138.6 693.9L133.2 693.9Z" fill="#fff" stroke="#111" stroke-width="1.6" stroke-linejoin="round"/>
<path d="M144.9 690L147.6 695L142.2 695Z" fill="#fff" stroke="#111" stroke-width="1.6" stroke-linejoin="round"/>
<path d="M152.7 691.6L155.3 696.6L150 696.6Z" fill="#fff" stroke="#111" stroke-width="1.6" stroke-linejoin="round"/>
<path d="M163.1 686.2L165.8 691.2L160.4 691.2Z" fill="#fff" stroke="#111" stroke-width="1.6" stroke-linejoin="round"/>
<path d="M173.2 690L175.8 695L170.5 695Z" fill="#fff" stroke="#111" stroke-width="1.6" stroke-linejoin="round"/>
<path d="M181 685.1L183.7 690.1L178.3 690.1Z" fill="#fff" stroke="#111" stroke-width="1.6" stroke-linejoin="round"/>
<path d="M192.7 688.9L195.3 693.9L190 693.9Z" fill="#fff" stroke="#111" stroke-width="1.6" stroke-linejoin="round"/>
<path d="M203.1 698.5L205.8 703.5L200.4 703.5Z" fill="#fff" stroke="#111" stroke-width="1.6" stroke-linejoin="round"/>
<path d="M213.8 690.3L216.5 695.3L211.2 695.3Z" fill="#fff" stroke="#111" stroke-width="1.6" stroke-linejoin="round"/>
<path d="M225.8 689.5L228.5 694.5L223.2 694.5Z" fill="#fff" stroke="#111" stroke-width="1.6" stroke-linejoin="round"/>
<path d="M237.3 685.1L240 690.1L234.7 690.1Z" fill="#fff" stroke="#111" stroke-width="1.6" stroke-linejoin="round"/>
<path d="M247.9 684.1L250.6 689.1L245.2 689.1Z" fill="#fff" stroke="#111" stroke-width="1.6" stroke-linejoin="round"/>
<path d="M262.7 669.1L265.3 674.1L260.1 674.1Z" fill="#fff" stroke="#111" stroke-width="1.6" stroke-linejoin="round"/>
<path d="M276.2 661L278.8 666L273.6 666Z" fill="#fff" stroke="#111" stroke-width="1.6" stroke-linejoin="round"/>
<path d="M286.7 663.9L289.3 668.9L284.1 668.9Z" fill="#fff" stroke="#111" stroke-width="1.6" stroke-linejoin="round"/>
<path d="M296.9 671.6L299.5 676.6L294.2 676.6Z" fill="#fff" stroke="#111" stroke-width="1.6" stroke-linejoin="round"/>
<path d="M306 663L308.6 668L303.4 668Z" fill="#fff" stroke="#111" stroke-width="1.6" stroke-linejoin="round"/>
<path d="M316.2 661.4L318.8 666.4L313.6 666.4Z" fill="#fff" stroke="#111" stroke-width="1.6" stroke-linejoin="round"/>
<path d="M327.1 680.3L329.8 685.3L324.5 685.3Z" fill="#fff" stroke="#111" stroke-width="1.6" stroke-linejoin="round"/>
<path d="M337.3 671.6L339.9 676.6L334.7 676.6Z" fill="#fff" stroke="#111" stroke-width="1.6" stroke-linejoin="round"/>
<path d="M348.2 673.5L350.8 678.5L345.6 678.5Z" fill="#fff" stroke="#111" stroke-width="1.6" stroke-linejoin="round"/>
<path d="M358.3 664.9L360.9 669.9L355.7 669.9Z" fill="#fff" stroke="#111" stroke-width="1.6" stroke-linejoin="round"/>
<path d="M368.8 680.9L371.4 685.9L366.2 685.9Z" fill="#fff" stroke="#111" stroke-width="1.6" stroke-linejoin="round"/>
<path d="M379.4 676L382 681L376.8 681Z" fill="#fff" stroke="#111" stroke-width="1.6" stroke-linejoin="round"/>
<path d="M390 679.3L392.6 684.3L387.4 684.3Z" fill="#fff" stroke="#111" stroke-width="1.6" stroke-linejoin="round"/>
<path d="M405.4 674.9L408 679.9L402.8 679.9Z" fill="#fff" stroke="#111" stroke-width="1.6" stroke-linejoin="round"/>
<path d="M416 666.8L418.6 671.8L413.4 671.8Z" fill="#fff" stroke="#111" stroke-width="1.6" stroke-linejoin="round"/>
<path d="M426.2 665.7L428.8 670.7L423.6 670.7Z" fill="#fff" stroke="#111" stroke-width="1.6" stroke-linejoin="round"/>
<path d="M436.9 664.1L439.5 669.1L434.2 669.1Z" fill="#fff" stroke="#111" stroke-width="1.6" stroke-linejoin="round"/>
<path d="M446.9 674.3L449.5 679.3L444.2 679.3Z" fill="#fff" stroke="#111" stroke-width="1.6" stroke-linejoin="round"/>
<path d="M455.6 685.3L458.2 690.3L453 690.3Z" fill="#fff" stroke="#111" stroke-width="1.6" stroke-linejoin="round"/>
<path d="M464.6 669.1L467.2 674.1L462 674.1Z" fill="#fff" stroke="#111" stroke-width="1.6" stroke-linejoin="round"/>
<path d="M474.8 671.8L477.4 676.8L472.2 676.8Z" fill="#fff" stroke="#111" stroke-width="1.6" stroke-linejoin="round"/>
<path d="M485.4 677.6L488 682.6L482.8 682.6Z" fill="#fff" stroke="#111" stroke-width="1.6" stroke-linejoin="round"/>
<g fill="#111" stroke="#111" stroke-width="0.4"><text x="40.94 49.20" y="8.6" font-family="Liberation Sans, sans-serif" font-size="11.8">30</text></g>
<g fill="#111" stroke="#111" stroke-width="0.4"><text x="40.97 49.23" y="54" font-family="Liberation Sans, sans-serif" font-size="11.8">25</text></g>
<g fill="#111" stroke="#111" stroke-width="0.4"><text x="40.94 49.20" y="99.4" font-family="Liberation Sans, sans-serif" font-size="11.8">20</text></g>
<g fill="#111" stroke="#111" stroke-width="0.4"><path d="M515 0L515 1237L197 1010L197 1180L530 1409L696 1409L696 0Z" transform="translate(40.97 144.74) scale(0.00576 -0.00576)"/><text x="49.23" y="144.7" font-family="Liberation Sans, sans-serif" font-size="11.8">5</text></g>
<g fill="#111" stroke="#111" stroke-width="0.4"><path d="M515 0L515 1237L197 1010L197 1180L530 1409L696 1409L696 0Z" transform="translate(40.94 190.12) scale(0.00576 -0.00576)"/><text x="49.20" y="190.1" font-family="Liberation Sans, sans-serif" font-size="11.8">0</text></g>
<g fill="#111" stroke="#111" stroke-width="0.4"><text x="40.94 49.20" y="204.1" font-family="Liberation Sans, sans-serif" font-size="11.8">30</text></g>
<g fill="#111" stroke="#111" stroke-width="0.4"><text x="40.97 49.23" y="247.7" font-family="Liberation Sans, sans-serif" font-size="11.8">25</text></g>
<g fill="#111" stroke="#111" stroke-width="0.4"><text x="40.94 49.20" y="291.3" font-family="Liberation Sans, sans-serif" font-size="11.8">20</text></g>
<g fill="#111" stroke="#111" stroke-width="0.4"><path d="M515 0L515 1237L197 1010L197 1180L530 1409L696 1409L696 0Z" transform="translate(40.97 334.84) scale(0.00576 -0.00576)"/><text x="49.23" y="334.8" font-family="Liberation Sans, sans-serif" font-size="11.8">5</text></g>
<g fill="#111" stroke="#111" stroke-width="0.4"><path d="M515 0L515 1237L197 1010L197 1180L530 1409L696 1409L696 0Z" transform="translate(40.94 378.42) scale(0.00576 -0.00576)"/><text x="49.20" y="378.4" font-family="Liberation Sans, sans-serif" font-size="11.8">0</text></g>
<g fill="#111" stroke="#111" stroke-width="0.4"><text x="40.94 49.20" y="392.4" font-family="Liberation Sans, sans-serif" font-size="11.8">30</text></g>
<g fill="#111" stroke="#111" stroke-width="0.4"><text x="40.97 49.23" y="435.4" font-family="Liberation Sans, sans-serif" font-size="11.8">25</text></g>
<g fill="#111" stroke="#111" stroke-width="0.4"><text x="40.94 49.20" y="478.4" font-family="Liberation Sans, sans-serif" font-size="11.8">20</text></g>
<g fill="#111" stroke="#111" stroke-width="0.4"><path d="M515 0L515 1237L197 1010L197 1180L530 1409L696 1409L696 0Z" transform="translate(40.97 521.42) scale(0.00576 -0.00576)"/><text x="49.23" y="521.4" font-family="Liberation Sans, sans-serif" font-size="11.8">5</text></g>
<g fill="#111" stroke="#111" stroke-width="0.4"><path d="M515 0L515 1237L197 1010L197 1180L530 1409L696 1409L696 0Z" transform="translate(40.94 564.42) scale(0.00576 -0.00576)"/><text x="49.20" y="564.4" font-family="Liberation Sans, sans-serif" font-size="11.8">0</text></g>
<g fill="#111" stroke="#111" stroke-width="0.4"><text x="40.94 49.20" y="580.1" font-family="Liberation Sans, sans-serif" font-size="11.8">30</text></g>
<g fill="#111" stroke="#111" stroke-width="0.4"><text x="40.97 49.23" y="622.9" font-family="Liberation Sans, sans-serif" font-size="11.8">25</text></g>
<g fill="#111" stroke="#111" stroke-width="0.4"><text x="40.94 49.20" y="665.6" font-family="Liberation Sans, sans-serif" font-size="11.8">20</text></g>
<g fill="#111" stroke="#111" stroke-width="0.4"><path d="M515 0L515 1237L197 1010L197 1180L530 1409L696 1409L696 0Z" transform="translate(40.97 708.37) scale(0.00576 -0.00576)"/><text x="49.23" y="708.4" font-family="Liberation Sans, sans-serif" font-size="11.8">5</text></g>
<g fill="#111" stroke="#111" stroke-width="0.4"><path d="M515 0L515 1237L197 1010L197 1180L530 1409L696 1409L696 0Z" transform="translate(40.94 751.12) scale(0.00576 -0.00576)"/><text x="49.20" y="751.1" font-family="Liberation Sans, sans-serif" font-size="11.8">0</text></g>
<g transform="translate(71.9 0) rotate(-90)" fill="#111" stroke="#111" stroke-width="0.4"><rect x="-773.98" y="-4.97" width="2.2" height="1.3"/><text x="-771.38 -763.61" y="0" font-family="Liberation Sans, sans-serif" font-size="12.0">20</text></g>
<g transform="translate(101.7 0) rotate(-90)" fill="#111" stroke="#111" stroke-width="0.4"><text x="-763.61" y="0" font-family="Liberation Sans, sans-serif" font-size="12.0">0</text></g>
<g transform="translate(131.5 0) rotate(-90)" fill="#111" stroke="#111" stroke-width="0.4"><text x="-771.38 -763.61" y="0" font-family="Liberation Sans, sans-serif" font-size="12.0">20</text></g>
<g transform="translate(161.3 0) rotate(-90)" fill="#111" stroke="#111" stroke-width="0.4"><text x="-771.38 -763.61" y="0" font-family="Liberation Sans, sans-serif" font-size="12.0">40</text></g>
<g transform="translate(191 0) rotate(-90)" fill="#111" stroke="#111" stroke-width="0.4"><text x="-771.38 -763.61" y="0" font-family="Liberation Sans, sans-serif" font-size="12.0">60</text></g>
<g transform="translate(220.8 0) rotate(-90)" fill="#111" stroke="#111" stroke-width="0.4"><text x="-771.38 -763.61" y="0" font-family="Liberation Sans, sans-serif" font-size="12.0">80</text></g>
<g transform="translate(250.6 0) rotate(-90)" fill="#111" stroke="#111" stroke-width="0.4"><path d="M515 0L515 1237L197 1010L197 1180L530 1409L696 1409L696 0Z" transform="translate(-779.15 0.00) scale(0.00586 -0.00586)"/><text x="-771.38 -763.61" y="0" font-family="Liberation Sans, sans-serif" font-size="12.0">00</text></g>
<g transform="translate(280.4 0) rotate(-90)" fill="#111" stroke="#111" stroke-width="0.4"><path d="M515 0L515 1237L197 1010L197 1180L530 1409L696 1409L696 0Z" transform="translate(-779.15 0.00) scale(0.00586 -0.00586)"/><text x="-771.38 -763.61" y="0" font-family="Liberation Sans, sans-serif" font-size="12.0">20</text></g>
<g transform="translate(310.2 0) rotate(-90)" fill="#111" stroke="#111" stroke-width="0.4"><path d="M515 0L515 1237L197 1010L197 1180L530 1409L696 1409L696 0Z" transform="translate(-779.15 0.00) scale(0.00586 -0.00586)"/><text x="-771.38 -763.61" y="0" font-family="Liberation Sans, sans-serif" font-size="12.0">40</text></g>
<g transform="translate(340 0) rotate(-90)" fill="#111" stroke="#111" stroke-width="0.4"><path d="M515 0L515 1237L197 1010L197 1180L530 1409L696 1409L696 0Z" transform="translate(-779.15 0.00) scale(0.00586 -0.00586)"/><text x="-771.38 -763.61" y="0" font-family="Liberation Sans, sans-serif" font-size="12.0">60</text></g>
<g transform="translate(369.7 0) rotate(-90)" fill="#111" stroke="#111" stroke-width="0.4"><path d="M515 0L515 1237L197 1010L197 1180L530 1409L696 1409L696 0Z" transform="translate(-779.15 0.00) scale(0.00586 -0.00586)"/><text x="-771.38 -763.61" y="0" font-family="Liberation Sans, sans-serif" font-size="12.0">80</text></g>
<g transform="translate(399.5 0) rotate(-90)" fill="#111" stroke="#111" stroke-width="0.4"><text x="-779.15 -771.38 -763.61" y="0" font-family="Liberation Sans, sans-serif" font-size="12.0">200</text></g>
<g transform="translate(429.3 0) rotate(-90)" fill="#111" stroke="#111" stroke-width="0.4"><text x="-779.15 -771.38 -763.61" y="0" font-family="Liberation Sans, sans-serif" font-size="12.0">220</text></g>
<g transform="translate(459.1 0) rotate(-90)" fill="#111" stroke="#111" stroke-width="0.4"><text x="-779.15 -771.38 -763.61" y="0" font-family="Liberation Sans, sans-serif" font-size="12.0">240</text></g>
<g transform="translate(488.9 0) rotate(-90)" fill="#111" stroke="#111" stroke-width="0.4"><text x="-779.15 -771.38 -763.61" y="0" font-family="Liberation Sans, sans-serif" font-size="12.0">260</text></g>
<g transform="translate(518.7 0) rotate(-90)" fill="#111" stroke="#111" stroke-width="0.4"><text x="-779.15 -771.38 -763.61" y="0" font-family="Liberation Sans, sans-serif" font-size="12.0">280</text></g>
<text x="78.79" y="31.8" font-family="Liberation Sans, sans-serif" font-size="16.5" font-weight="bold" fill="#111" stroke="#111" stroke-width="0.35" textLength="42.35" lengthAdjust="spacingAndGlyphs">Expt.</text>
<text x="131.07" y="31.8" font-family="Liberation Sans, sans-serif" font-size="16.5" font-weight="bold" fill="#111" stroke="#111" stroke-width="0.35" textLength="18.88" lengthAdjust="spacingAndGlyphs">I-a</text>
<text x="83.13" y="228.6" font-family="Liberation Sans, sans-serif" font-size="16.5" font-weight="bold" fill="#111" stroke="#111" stroke-width="0.35" textLength="41.08" lengthAdjust="spacingAndGlyphs">Expt.</text>
<text x="134.17" y="228.6" font-family="Liberation Sans, sans-serif" font-size="16.5" font-weight="bold" fill="#111" stroke="#111" stroke-width="0.35" textLength="21.50" lengthAdjust="spacingAndGlyphs">I-b</text>
<text x="81.31" y="413" font-family="Liberation Sans, sans-serif" font-size="16.5" font-weight="bold" fill="#111" stroke="#111" stroke-width="0.35" textLength="41.82" lengthAdjust="spacingAndGlyphs">Expt.</text>
<text x="134.66" y="413" font-family="Liberation Sans, sans-serif" font-size="16.5" font-weight="bold" fill="#111" stroke="#111" stroke-width="0.35" textLength="23.59" lengthAdjust="spacingAndGlyphs">II-a</text>
<text x="80.93" y="603.8" font-family="Liberation Sans, sans-serif" font-size="16.5" font-weight="bold" fill="#111" stroke="#111" stroke-width="0.35" textLength="41.08" lengthAdjust="spacingAndGlyphs">Expt.</text>
<text x="133.03" y="603.8" font-family="Liberation Sans, sans-serif" font-size="16.5" font-weight="bold" fill="#111" stroke="#111" stroke-width="0.35" textLength="25.21" lengthAdjust="spacingAndGlyphs">II-b</text>
<text x="-442.68" y="0" font-family="Liberation Sans, sans-serif" font-size="16.3" font-weight="bold" fill="#111" stroke="#111" stroke-width="0.35" textLength="42.22" lengthAdjust="spacingAndGlyphs" transform="translate(13.3 0) rotate(-90)">Body</text>
<text x="-391.77" y="0" font-family="Liberation Sans, sans-serif" font-size="16.3" font-weight="bold" fill="#111" stroke="#111" stroke-width="0.35" textLength="58.13" lengthAdjust="spacingAndGlyphs" transform="translate(13.3 0) rotate(-90)">Weight</text>
<text x="-317.70" y="0" font-family="Liberation Sans, sans-serif" font-size="16.3" font-weight="bold" fill="#111" stroke="#111" stroke-width="0.35" textLength="37.00" lengthAdjust="spacingAndGlyphs" transform="translate(13.3 0) rotate(-90)">(gm)</text>
<text x="205.03" y="802.6" font-family="Liberation Sans, sans-serif" font-size="15.6" font-weight="bold" fill="#111" stroke="#111" stroke-width="0.35" textLength="30.61" lengthAdjust="spacingAndGlyphs">Day</text>
<text x="246.94" y="802.6" font-family="Liberation Sans, sans-serif" font-size="15.6" font-weight="bold" fill="#111" stroke="#111" stroke-width="0.35" textLength="37.57" lengthAdjust="spacingAndGlyphs">after</text>
<text x="292.14" y="802.6" font-family="Liberation Sans, sans-serif" font-size="15.6" font-weight="bold" fill="#111" stroke="#111" stroke-width="0.35" textLength="35.78" lengthAdjust="spacingAndGlyphs">BMT</text>
</svg>
</body></html>
